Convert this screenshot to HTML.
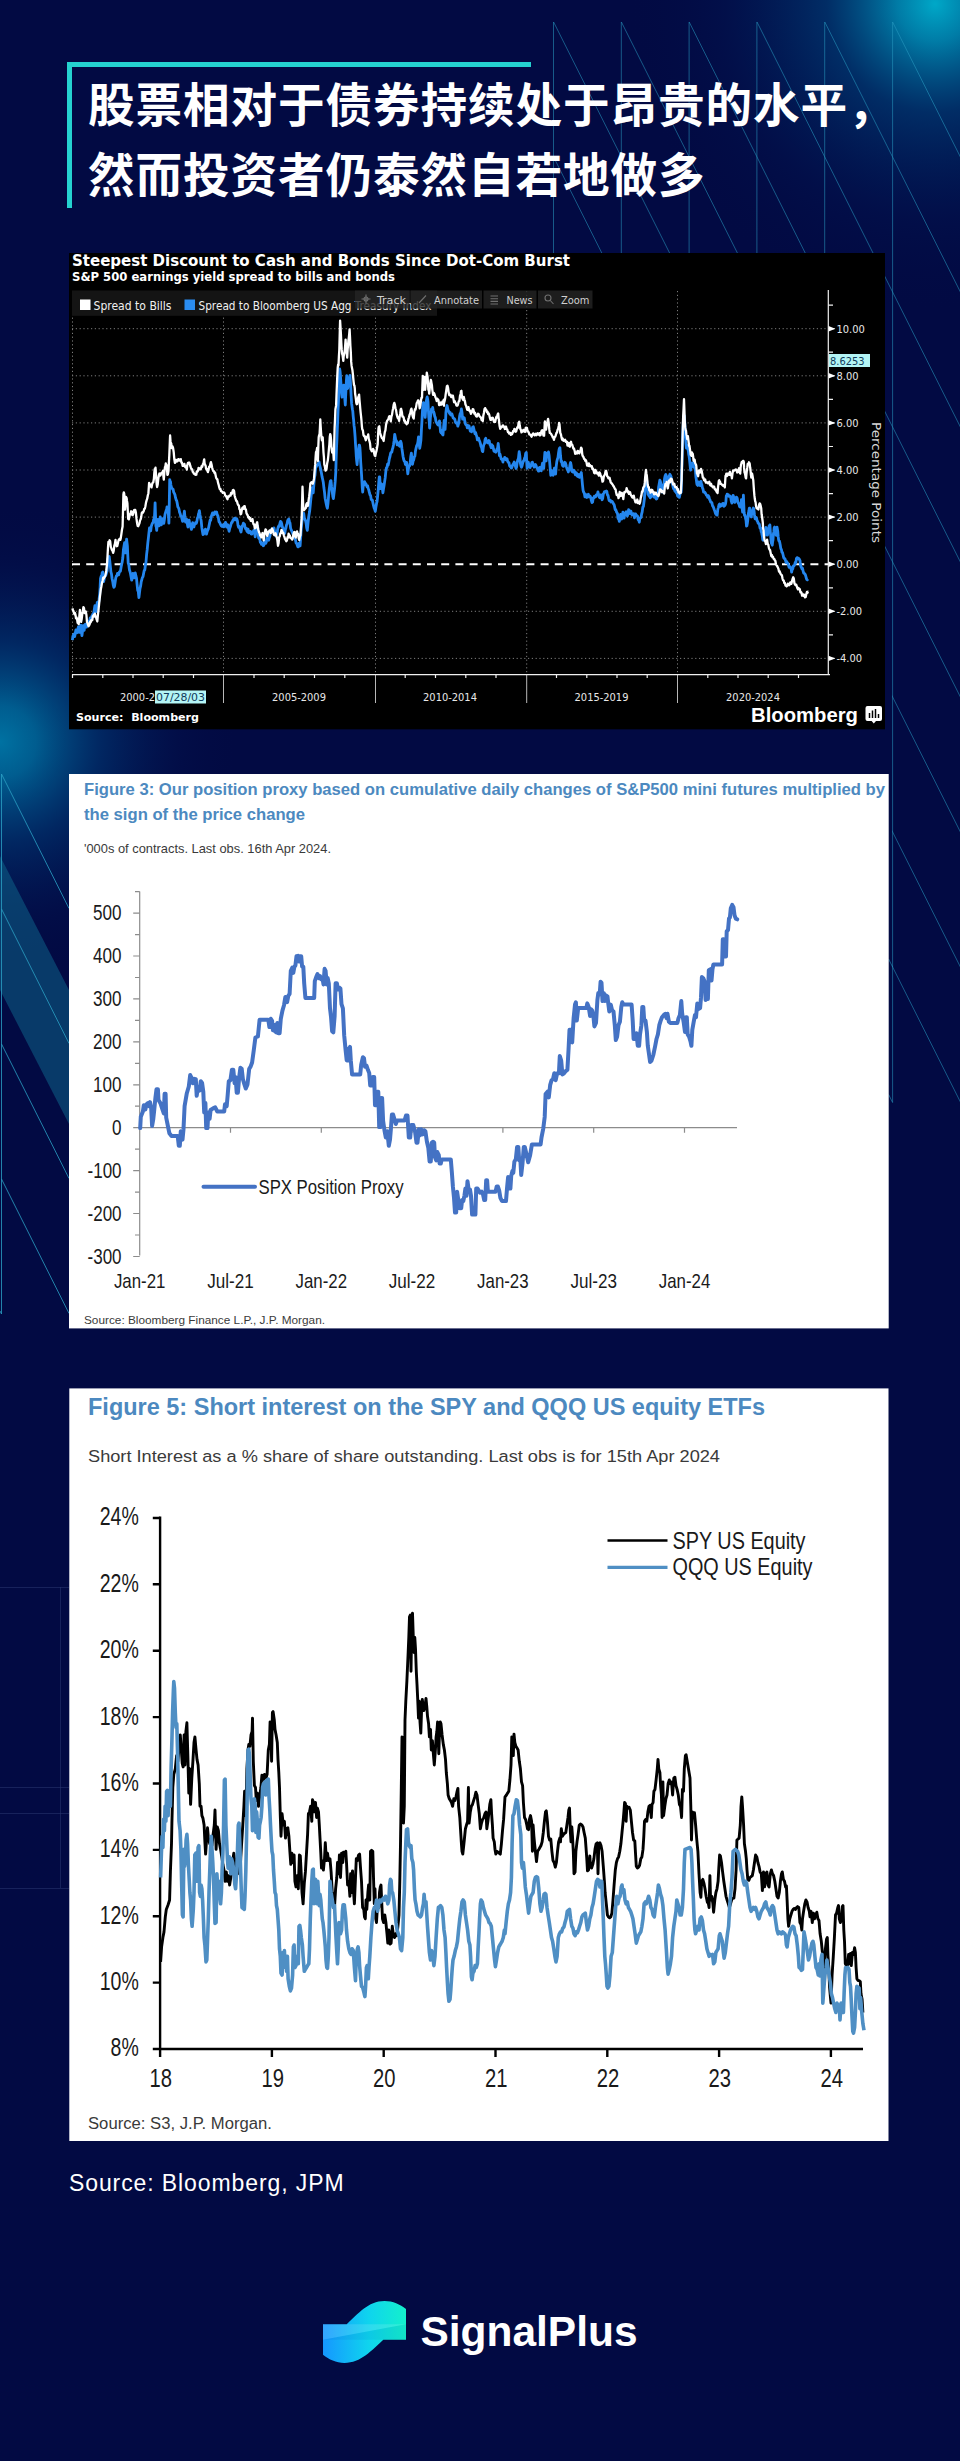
<!DOCTYPE html><html lang="zh"><head><meta charset="utf-8"><title>SignalPlus</title>
<style>
html,body{margin:0;padding:0;background:#020a43;}
body{width:960px;height:2461px;position:relative;overflow:hidden;font-family:"Liberation Sans","Noto Sans CJK SC",sans-serif;}
#bg{position:absolute;left:0;top:0;width:960px;height:2461px;}
.abs{position:absolute;}
h1{position:absolute;left:67px;top:62px;margin:0;width:464px;height:146px;box-sizing:border-box;border-left:5px solid #25d2d0;border-top:5px solid #25d2d0;}
h1 span{position:absolute;left:16px;white-space:nowrap;color:#fff;font-family:"Liberation Sans","Noto Sans CJK SC",sans-serif;font-weight:700;font-size:46.6px;line-height:70px;letter-spacing:0.9px;}
.src{position:absolute;left:69px;top:2167px;color:#fff;font-size:23px;line-height:32px;letter-spacing:0.9px;font-family:"Liberation Sans",sans-serif;white-space:nowrap;}
svg text{white-space:pre;}

</style></head><body>
<svg id="bg" width="960" height="2461" viewBox="0 0 960 2461">
<defs>
<radialGradient id="g1" cx="935" cy="4" r="310" gradientUnits="userSpaceOnUse"><stop offset="0" stop-color="#00a8c8" stop-opacity="1"/><stop offset="0.12" stop-color="#0090b8" stop-opacity="0.85"/><stop offset="0.35" stop-color="#005088" stop-opacity="0.5"/><stop offset="0.7" stop-color="#002060" stop-opacity="0.2"/><stop offset="1" stop-color="#020a43" stop-opacity="0"/></radialGradient>
<radialGradient id="g2" cx="0" cy="742" r="240" gradientUnits="userSpaceOnUse"><stop offset="0" stop-color="#0072a2" stop-opacity="1"/><stop offset="0.15" stop-color="#006698" stop-opacity="0.9"/><stop offset="0.42" stop-color="#003c78" stop-opacity="0.58"/><stop offset="0.75" stop-color="#021a58" stop-opacity="0.22"/><stop offset="1" stop-color="#020a43" stop-opacity="0"/></radialGradient>
<linearGradient id="lg" x1="0" y1="0" x2="1" y2="0"><stop offset="0" stop-color="#1597ff"/><stop offset="0.55" stop-color="#0fd4ee"/><stop offset="1" stop-color="#14f0cc"/></linearGradient>
</defs>
<rect width="960" height="2461" fill="#020a43"/>
<rect width="960" height="700" fill="url(#g1)"/>
<rect y="400" width="400" height="700" fill="url(#g2)"/>
<polygon points="0,856 69,990 69,1124 0,990" fill="#0e6288" fill-opacity="0.55"/>
<g stroke="#2a3670" stroke-opacity="0.55" stroke-width="1" fill="none">
<path d="M0,1587.5 H69"/>
<path d="M0,1787.5 H69"/>
<path d="M0,1813.5 H69"/>
<path d="M0,1888.5 H69"/>
<path d="M60.5,1587 V1888"/>
</g>
<clipPath id="cp"><path d="M553,21 H960 V1240 H892 V600 H884 V260 H553 Z"/></clipPath>
<g stroke="#2a9cc2" stroke-opacity="0.55" stroke-width="1" fill="none" clip-path="url(#cp)">
<path d="M553.5,22 V427.0"/>
<path d="M621.3,22 V562.0"/>
<path d="M689.1,22 V697.0"/>
<path d="M756.9,22 V720.0"/>
<path d="M824.7,22 V720.0"/>
<path d="M892.6,22 V1102.5"/>
<path d="M1231.6,22.0 L961.0,-516.8"/>
<path d="M1163.8,22.0 L961.0,-381.8"/>
<path d="M1096.0,22.0 L961.0,-246.8"/>
<path d="M1028.2,22.0 L961.0,-111.8"/>
<path d="M960.4,22.0 L961.0,23.2"/>
<path d="M892.6,22.0 L961.0,158.2"/>
<path d="M824.8,22.0 L961.0,293.2"/>
<path d="M757.0,22.0 L961.0,428.2"/>
<path d="M689.2,22.0 L961.0,563.2"/>
<path d="M621.4,22.0 L961.0,698.2"/>
<path d="M553.6,22.0 L961.0,833.2"/>
<path d="M553.5,156.8 L961.0,968.2"/>
<path d="M553.5,291.8 L961.0,1103.2"/>
</g>
<g stroke="#2a9cc2" stroke-opacity="0.55" stroke-width="1" fill="none">
<path d="M888.6,959 L892.6,967 M888.6,1094.5 L892.6,1102.5"/>
</g>
<g stroke="#2aa0c4" stroke-opacity="0.8" stroke-width="1" fill="none">
<path d="M1.5,774 V1314"/>
<path d="M1.5,774.0 L69,908.4"/>
<path d="M1.5,909.0 L69,1043.4"/>
<path d="M1.5,1044.0 L69,1178.4"/>
<path d="M1.5,1179.0 L69,1313.4"/>
<path d="M0,1311.0 L1.5,1314.0"/>
</g>
</svg>
<h1><span style="top:3.8px">股票相对于债券持续处于昂贵的水平，</span><span style="top:73.6px">然而投资者仍泰然自若地做多</span></h1>
<svg class="abs" style="left:0;top:0" width="960" height="2461" viewBox="0 0 960 2461">
<g id="chart1">
<rect x="69" y="253" width="816" height="476.3" fill="#000"/>
<text x="72" y="266.4" font-family='"DejaVu Sans", "Liberation Sans", sans-serif' font-weight="700" font-size="15.5" fill="#fff" textLength="498" lengthAdjust="spacingAndGlyphs">Steepest Discount to Cash and Bonds Since Dot-Com Burst</text>
<text x="72" y="281.1" font-family='"DejaVu Sans", "Liberation Sans", sans-serif' font-weight="700" font-size="11.4" fill="#fff" textLength="323" lengthAdjust="spacingAndGlyphs">S&amp;P 500 earnings yield spread to bills and bonds</text>
<g stroke="#7c7c7c" stroke-width="1" stroke-dasharray="1.2,2.6" fill="none">
<path d="M72,328.7 H828"/>
<path d="M72,375.8 H828"/>
<path d="M72,422.9 H828"/>
<path d="M72,470.0 H828"/>
<path d="M72,517.1 H828"/>
<path d="M72,611.3 H828"/>
<path d="M72,658.4 H828"/>
<path d="M72.5,291 V674"/>
<path d="M223.5,291 V674"/>
<path d="M375.5,291 V674"/>
<path d="M526.7,291 V674"/>
<path d="M677.5,291 V674"/>
</g>
<rect x="72" y="290.5" width="365" height="25.3" fill="#141414"/>
<rect x="80" y="299.5" width="10.5" height="10.5" fill="#fff"/>
<text x="93.5" y="309.5" font-family='"DejaVu Sans Condensed", "DejaVu Sans", "Liberation Sans", sans-serif' font-size="11.6" fill="#f0f0f0" textLength="78" lengthAdjust="spacingAndGlyphs">Spread to Bills</text>
<rect x="184.5" y="299.5" width="10.5" height="10.5" fill="#2a8cf0"/>
<text x="198.5" y="309.5" font-family='"DejaVu Sans Condensed", "DejaVu Sans", "Liberation Sans", sans-serif' font-size="11.6" fill="#f0f0f0" textLength="233" lengthAdjust="spacingAndGlyphs">Spread to Bloomberg US Agg Treasury Index</text>
<rect x="355" y="290.5" width="54.5" height="18" fill="#242424" fill-opacity="0.8"/>
<text x="377" y="303.5" font-family='"DejaVu Sans Condensed", "DejaVu Sans", "Liberation Sans", sans-serif' font-size="11" fill="#d0d0d0" textLength="29" lengthAdjust="spacingAndGlyphs">Track</text>
<rect x="411" y="290.5" width="71" height="18" fill="#242424" fill-opacity="0.8"/>
<text x="434" y="303.5" font-family='"DejaVu Sans Condensed", "DejaVu Sans", "Liberation Sans", sans-serif' font-size="11" fill="#d0d0d0" textLength="45" lengthAdjust="spacingAndGlyphs">Annotate</text>
<rect x="483.5" y="290.5" width="53" height="18" fill="#242424" fill-opacity="0.8"/>
<text x="506.5" y="303.5" font-family='"DejaVu Sans Condensed", "DejaVu Sans", "Liberation Sans", sans-serif' font-size="11" fill="#d0d0d0" textLength="26" lengthAdjust="spacingAndGlyphs">News</text>
<rect x="538" y="290.5" width="54.5" height="18" fill="#242424" fill-opacity="0.8"/>
<text x="561" y="303.5" font-family='"DejaVu Sans Condensed", "DejaVu Sans", "Liberation Sans", sans-serif' font-size="11" fill="#d0d0d0" textLength="28.5" lengthAdjust="spacingAndGlyphs">Zoom</text>
<g stroke="#707070" stroke-width="1.1" fill="none">
<path d="M366,294.5 V303.5 M361.5,299 H370.5"/><circle cx="366" cy="299" r="2"/>
<path d="M419,303 L426,295.5"/>
<path d="M490.5,296 H498 M490.5,298.7 H498 M490.5,301.4 H498 M490.5,304 H498"/>
<circle cx="548" cy="298" r="3"/><path d="M550.3,300.5 L553.5,304"/>
</g>
<path d="M72,564.2 H828" stroke="#fff" stroke-width="2" stroke-dasharray="8,6.2" fill="none"/>
<path d="M72.4,640.2L72.9,636.2L73.5,634.8L74.1,633.9L74.7,636.6L75.3,633.0L75.9,629.9L76.5,632.1L77.1,632.8L77.7,630.3L78.3,627.0L78.9,628.5L79.5,632.4L80.1,630.3L80.7,625.1L81.3,629.5L81.9,635.7L82.4,632.3L83.0,625.7L83.6,627.2L84.2,630.3L84.8,624.9L85.4,624.2L86.0,624.8L86.6,627.1L87.2,623.2L87.8,621.4L88.4,623.9L89.0,623.2L89.6,621.0L90.2,617.9L90.8,618.2L91.4,619.8L91.9,616.0L92.5,615.1L93.1,613.6L93.7,614.0L94.3,609.5L94.9,605.6L95.5,609.1L96.1,611.7L96.7,606.1L97.3,602.3L97.9,603.6L98.5,603.5L99.1,599.2L99.7,594.0L100.1,587.5L100.5,578.5L101.1,576.3L101.6,576.9L102.2,572.7L102.8,572.1L103.2,578.1L103.6,581.6L104.2,579.1L104.8,575.4L105.4,575.8L106.0,574.6L106.6,572.5L107.2,570.8L107.6,563.6L108.0,558.6L108.6,557.7L109.2,556.5L109.8,561.1L110.4,566.8L110.9,571.9L111.5,574.1L112.1,578.7L112.7,581.4L113.3,585.3L113.9,587.3L114.5,586.4L115.1,582.6L115.7,578.3L116.3,576.0L116.9,575.8L117.5,573.4L118.1,574.5L118.7,574.7L119.3,572.2L119.9,571.5L120.4,571.2L121.0,567.7L121.6,564.3L122.2,562.1L122.8,557.8L123.4,549.8L124.0,546.3L124.6,542.6L125.0,548.9L125.4,552.9L126.0,547.3L126.6,539.2L127.0,542.7L127.4,546.2L127.8,555.8L128.2,563.0L128.8,564.9L129.4,569.7L129.9,571.2L130.5,573.8L131.1,577.1L131.7,580.2L132.3,576.2L132.9,573.4L133.5,575.8L134.1,577.9L134.7,575.4L135.3,572.9L135.9,575.9L136.5,578.1L137.1,584.5L137.7,590.3L138.3,591.8L138.9,597.5L139.4,593.5L140.0,588.6L140.6,586.2L141.2,581.9L141.8,579.7L142.4,577.5L143.0,576.7L143.6,573.5L144.2,570.5L144.8,569.8L145.4,565.0L146.0,562.0L146.6,554.7L147.2,549.7L147.8,543.2L148.4,537.9L148.9,533.1L149.5,527.9L150.1,531.1L150.7,530.8L151.3,526.3L151.9,524.3L152.5,523.1L153.1,522.5L153.7,519.3L154.3,519.3L154.7,512.7L155.1,502.9L155.5,514.7L155.9,526.0L156.3,527.1L156.7,530.4L157.3,523.8L157.9,519.3L158.4,521.4L159.0,525.9L159.6,523.4L160.2,516.8L160.8,519.4L161.4,524.8L162.0,519.9L162.6,518.8L163.2,522.5L163.8,523.3L164.4,519.5L165.0,514.4L165.6,512.3L166.2,510.3L166.6,509.9L167.0,506.9L167.6,509.9L168.1,510.6L168.5,515.7L168.9,523.2L169.3,502.8L169.7,479.7L170.1,481.3L170.5,481.6L170.9,485.0L171.3,486.7L171.9,488.1L172.5,488.8L173.1,489.3L173.7,492.3L174.3,493.2L174.9,494.6L175.5,497.7L176.1,499.7L176.7,500.7L177.3,503.6L177.8,506.8L178.4,507.6L179.0,509.3L179.6,512.4L180.2,513.8L180.8,516.3L181.4,516.6L182.0,518.9L182.6,521.3L183.2,521.2L183.8,515.7L184.4,511.1L185.0,517.9L185.6,522.1L186.2,521.3L186.8,519.4L187.3,523.8L187.9,527.0L188.5,523.6L189.1,520.2L189.7,523.8L190.3,524.4L190.9,527.8L191.5,529.4L192.1,525.3L192.7,522.6L193.3,526.4L193.9,527.0L194.5,524.4L195.1,524.1L195.7,522.4L196.3,523.3L196.8,521.9L197.4,518.2L198.0,517.0L198.6,513.5L199.0,512.4L199.4,510.6L200.0,515.0L200.6,518.2L201.2,520.9L201.8,527.4L202.4,531.2L203.0,534.6L203.6,534.3L204.2,530.5L204.8,531.0L205.4,529.1L205.9,530.5L206.5,534.2L207.1,531.8L207.7,530.2L208.3,529.0L208.9,526.3L209.5,523.4L210.1,520.2L210.7,520.3L211.3,516.5L211.9,514.6L212.5,512.9L213.1,514.8L213.7,513.7L214.3,514.4L214.9,511.8L215.4,512.4L216.0,512.8L216.6,512.0L217.2,514.7L217.8,515.6L218.4,518.0L219.0,521.9L219.6,522.2L220.2,523.6L220.8,525.0L221.4,525.9L222.0,526.4L222.6,525.7L223.2,524.8L223.8,526.8L224.4,526.1L224.9,524.9L225.5,522.3L226.1,523.8L226.7,527.1L227.3,525.7L227.9,524.8L228.5,528.6L229.1,531.3L229.7,528.4L230.3,526.8L230.9,524.7L231.5,522.7L232.1,522.5L232.7,520.7L233.3,519.9L233.9,518.7L234.4,519.9L235.0,518.1L235.6,519.7L236.2,519.4L236.8,518.8L237.4,520.8L238.0,525.4L238.6,527.2L239.2,526.3L239.8,528.1L240.4,530.4L241.0,532.0L241.6,528.7L242.2,526.0L242.8,525.3L243.4,523.1L243.9,525.2L244.5,524.2L245.1,527.5L245.7,528.9L246.3,528.3L246.9,531.2L247.5,531.9L248.1,529.2L248.7,532.8L249.3,532.5L249.9,531.6L250.5,531.4L251.1,533.9L251.7,534.1L252.3,533.3L252.9,532.6L253.4,531.0L254.0,530.2L254.6,532.9L255.2,536.9L255.8,531.8L256.4,530.7L257.0,528.4L257.6,525.9L258.1,531.5L258.6,537.8L259.2,538.6L259.8,538.9L260.3,542.4L260.9,542.0L261.5,544.3L262.1,542.9L262.7,544.1L263.3,545.8L263.9,545.1L264.5,541.2L265.1,541.1L265.7,543.4L266.3,542.1L266.9,538.1L267.5,537.7L268.1,539.1L268.7,540.2L269.3,537.7L269.8,536.4L270.4,533.0L271.0,530.0L271.6,530.0L272.2,530.4L272.8,531.0L273.4,531.4L274.0,527.9L274.6,531.8L275.2,533.0L275.8,536.0L276.4,535.0L277.0,534.0L277.6,529.6L278.2,527.1L278.8,525.8L279.3,526.4L279.9,523.4L280.5,521.4L281.1,521.8L281.7,523.7L282.3,527.1L282.9,527.4L283.5,529.0L284.1,530.5L284.7,533.4L285.3,529.9L285.9,528.1L286.5,524.9L287.1,523.8L287.7,520.5L288.3,519.6L288.8,519.0L289.4,521.4L290.0,522.9L290.6,528.1L291.2,529.9L291.8,531.2L292.4,532.6L293.0,534.3L293.6,534.1L294.2,538.1L294.8,538.3L295.4,539.6L296.0,542.8L296.6,543.4L297.2,545.1L297.8,546.8L298.3,546.9L298.9,543.3L299.5,545.8L300.1,545.8L300.7,537.1L301.3,527.6L301.9,522.2L302.5,517.1L303.1,514.4L303.7,513.2L304.3,517.7L304.9,519.4L305.5,520.5L306.1,523.1L306.7,528.0L307.3,530.3L307.8,525.4L308.4,519.5L309.0,514.9L309.6,511.6L310.2,505.8L310.8,499.5L311.4,493.9L312.0,487.8L312.6,491.9L313.2,492.8L313.8,485.3L314.4,477.8L315.0,475.1L315.6,468.0L316.2,466.8L316.8,465.6L317.3,464.9L317.9,464.3L318.5,463.4L319.1,461.9L319.7,465.4L320.3,467.6L320.9,470.4L321.5,473.6L322.1,476.9L322.7,479.5L323.3,482.4L323.9,487.8L324.5,492.1L325.1,498.2L325.7,501.1L326.3,504.3L326.8,506.5L327.4,508.2L328.0,503.4L328.6,495.9L329.2,489.4L329.8,484.9L330.4,480.9L331.0,480.6L331.6,486.7L332.2,491.4L332.8,496.3L333.4,498.6L334.0,493.6L334.6,488.5L335.2,481.4L335.8,471.7L336.1,460.5L336.5,448.5L336.9,439.9L337.3,429.2L337.7,420.1L338.1,409.1L338.5,400.6L338.9,389.4L339.3,380.0L339.7,369.0L340.1,371.6L340.5,376.7L340.9,382.7L341.3,388.6L341.7,394.4L342.1,397.2L342.5,393.6L342.9,389.4L343.3,387.9L343.7,385.2L344.1,387.3L344.5,393.6L344.9,400.0L345.3,405.0L345.6,397.2L346.0,389.4L346.4,380.6L346.8,375.7L347.2,381.3L347.6,388.5L348.0,386.3L348.4,385.6L348.8,380.1L349.2,377.7L349.6,378.1L350.0,375.3L350.4,381.8L350.8,389.1L351.2,396.8L351.6,403.4L352.0,406.4L352.4,409.2L352.8,411.3L353.2,416.3L353.6,419.9L354.0,425.2L354.4,428.0L354.8,432.8L355.1,436.8L355.5,443.9L355.9,449.6L356.3,456.7L356.7,461.1L357.1,464.6L357.5,459.6L357.9,456.5L358.3,452.4L358.7,448.5L359.1,445.1L359.5,445.2L359.9,447.4L360.3,453.2L360.7,462.1L361.1,467.6L361.5,474.1L361.9,480.7L362.3,487.9L362.7,492.0L363.1,487.2L363.5,483.7L364.1,484.9L364.6,481.7L365.2,483.5L365.8,483.6L366.4,485.2L367.0,486.8L367.6,485.7L368.2,488.6L368.8,490.1L369.4,492.7L370.0,494.8L370.6,495.6L371.2,499.5L371.8,500.0L372.4,500.2L373.0,503.2L373.6,505.9L374.1,507.8L374.7,509.1L375.3,511.3L375.9,507.3L376.5,503.7L377.1,501.3L377.7,495.3L378.3,489.1L378.9,480.7L379.3,476.8L379.7,476.9L380.1,483.0L380.5,488.7L381.1,485.3L381.7,484.0L382.3,487.7L382.9,492.8L383.4,489.5L384.0,485.9L384.6,481.9L385.2,477.9L385.8,471.6L386.4,467.7L387.0,467.6L387.6,464.1L388.2,465.0L388.8,462.0L389.4,458.5L390.0,456.5L390.6,453.3L391.2,452.3L391.8,452.3L392.4,449.1L392.9,447.7L393.5,444.8L394.1,440.7L394.7,434.4L395.3,437.3L395.9,441.0L396.5,440.9L397.1,444.9L397.7,443.4L398.3,443.0L398.9,445.1L399.5,446.2L400.1,441.9L400.7,441.3L401.3,443.2L401.9,448.5L402.4,451.9L403.0,456.2L403.6,459.3L404.2,461.1L404.8,461.5L405.4,464.6L406.0,462.6L406.6,462.5L407.2,467.9L407.8,473.8L408.4,469.0L409.0,465.9L409.6,465.9L410.2,462.4L410.8,456.4L411.4,453.1L411.9,460.3L412.5,464.3L413.1,461.0L413.7,460.0L414.3,456.9L414.9,456.2L415.5,450.9L416.1,448.1L416.7,445.6L417.3,444.7L417.9,442.1L418.5,437.0L419.1,442.3L419.7,448.4L420.3,444.7L420.9,440.4L421.4,430.1L422.0,420.2L422.4,412.1L422.8,405.7L423.4,402.6L424.0,403.0L424.6,410.4L425.2,417.4L425.8,407.9L426.4,400.7L426.8,398.1L427.2,396.9L427.6,398.9L428.0,401.7L428.4,410.3L428.8,417.4L429.2,421.0L429.6,428.0L430.0,423.6L430.4,417.5L430.8,414.8L431.1,413.0L431.5,409.0L431.9,408.8L432.3,409.6L432.7,407.5L433.1,410.3L433.5,411.7L434.1,413.0L434.7,416.3L435.3,417.5L435.9,420.9L436.5,422.5L437.1,423.5L437.7,424.6L438.3,425.0L438.9,423.8L439.5,420.8L440.1,427.0L440.6,432.0L441.2,432.8L441.8,430.3L442.4,434.3L443.0,434.9L443.6,427.0L444.2,420.3L444.7,424.1L445.1,429.4L445.5,422.0L445.9,412.7L446.5,407.7L447.1,405.5L447.7,408.7L448.3,411.2L448.9,411.3L449.5,413.5L450.1,412.5L450.7,415.0L451.3,414.2L451.9,414.0L452.5,415.9L453.1,417.9L453.7,418.2L454.3,418.9L454.8,419.3L455.4,422.0L456.0,423.0L456.6,422.9L457.2,422.9L457.8,426.2L458.4,424.4L459.0,421.1L459.6,416.4L460.2,413.6L460.8,413.0L461.4,409.0L462.0,412.6L462.6,419.0L463.2,418.0L463.8,417.6L464.3,418.1L464.9,421.7L465.5,424.1L466.1,425.2L466.7,425.1L467.3,427.9L467.9,425.5L468.5,425.7L469.1,426.2L469.7,428.7L470.3,431.1L470.9,430.8L471.5,431.9L472.1,429.2L472.7,427.0L473.3,426.8L473.8,428.9L474.4,431.4L475.0,433.8L475.6,432.6L476.2,434.7L476.8,436.6L477.4,439.9L478.0,438.5L478.6,438.3L479.2,440.4L479.8,441.6L480.4,443.6L481.0,446.5L481.6,447.3L482.2,450.8L482.8,451.6L483.3,447.3L483.9,444.5L484.5,443.7L485.1,439.4L485.7,438.3L486.3,441.3L486.9,441.6L487.5,442.8L488.1,441.4L488.7,440.5L489.3,441.1L489.9,444.7L490.5,445.4L491.1,447.7L491.7,444.6L492.3,445.7L492.8,445.9L493.4,448.7L494.0,451.2L494.6,451.4L495.2,451.7L495.8,452.2L496.4,450.8L497.0,448.8L497.6,448.1L498.2,443.5L498.8,448.9L499.4,455.5L500.0,454.1L500.6,456.7L501.2,459.1L501.8,459.3L502.3,459.1L502.9,462.1L503.5,459.2L504.1,459.5L504.7,457.4L505.3,458.2L505.9,459.9L506.5,458.6L507.1,459.0L507.7,461.5L508.3,462.3L508.9,462.5L509.5,465.6L510.1,466.5L510.7,466.9L511.3,468.0L511.8,467.7L512.4,465.4L513.0,464.3L513.6,463.5L514.2,462.0L514.8,464.4L515.4,466.2L516.0,468.5L516.6,467.0L517.2,462.6L517.8,459.9L518.4,458.7L518.8,454.9L519.2,451.6L519.8,455.7L520.4,463.3L520.9,465.7L521.5,467.3L522.1,465.8L522.7,463.0L523.3,461.2L523.9,460.6L524.5,458.3L525.1,457.3L525.7,453.3L526.3,452.5L526.7,461.8L527.1,468.4L527.7,464.1L528.3,462.1L528.9,465.0L529.5,466.5L530.1,467.6L530.6,465.4L531.2,465.7L531.8,462.5L532.4,462.2L533.0,464.2L533.6,465.8L534.2,467.1L534.8,465.6L535.4,464.4L536.0,465.5L536.6,467.0L537.2,468.4L537.8,469.1L538.4,471.1L539.0,471.0L539.6,467.3L540.1,467.3L540.7,468.0L541.3,470.8L541.9,466.3L542.5,463.2L543.1,464.6L543.7,468.4L544.3,459.9L544.9,452.4L545.5,458.3L546.1,461.0L546.7,456.2L547.3,452.8L547.9,454.3L548.5,451.9L549.1,455.4L549.6,461.3L550.2,468.3L550.8,475.4L551.4,471.2L552.0,470.7L552.6,473.9L553.2,475.2L553.8,473.3L554.4,468.1L555.0,470.9L555.6,474.1L556.2,466.6L556.8,461.6L557.4,459.2L558.0,457.5L558.6,452.4L559.1,449.5L559.5,448.3L559.9,447.6L560.5,455.5L561.1,461.5L561.7,461.3L562.3,464.9L562.9,466.2L563.5,466.3L564.1,464.3L564.7,462.3L565.3,462.7L565.9,464.4L566.5,467.1L567.1,469.0L567.7,469.6L568.3,472.0L568.8,470.1L569.4,469.0L570.0,464.6L570.6,462.5L571.2,465.6L571.8,471.2L572.4,471.9L573.0,472.0L573.6,470.2L574.2,470.6L574.8,472.9L575.4,474.9L576.0,472.6L576.6,473.2L577.2,475.9L577.8,476.5L578.3,474.9L578.9,474.4L579.5,477.4L580.1,476.4L580.7,474.9L581.3,472.5L581.9,478.3L582.5,485.1L583.1,490.4L583.7,492.3L584.3,493.3L584.9,496.8L585.5,494.8L586.1,494.7L586.7,497.5L587.3,496.3L587.8,496.7L588.4,494.3L589.0,496.9L589.6,496.4L590.2,496.2L590.8,497.7L591.4,500.6L592.0,502.6L592.6,502.0L593.2,497.8L593.8,497.9L594.4,496.3L595.0,497.0L595.6,496.9L596.2,495.1L596.8,494.5L597.3,495.1L597.9,491.9L598.5,494.4L599.1,496.9L599.7,497.7L600.3,495.0L600.9,495.0L601.5,498.1L602.1,499.8L602.7,498.4L603.3,493.8L603.9,493.1L604.5,491.6L605.1,492.1L605.7,491.5L606.3,491.0L606.8,491.2L607.4,494.9L608.0,495.4L608.6,498.3L609.2,500.7L609.8,500.9L610.4,500.2L611.0,502.0L611.6,501.5L612.2,501.4L612.8,502.4L613.4,503.8L614.0,504.4L614.6,506.7L615.2,509.8L615.8,509.6L616.3,511.5L616.9,512.7L617.5,513.5L618.1,518.7L618.7,518.3L619.3,521.4L619.9,517.9L620.5,514.5L621.1,516.0L621.7,519.1L622.3,516.1L622.9,512.2L623.5,515.9L624.1,518.1L624.5,515.7L625.0,512.9L625.6,513.1L626.2,511.7L626.8,512.6L627.4,516.0L628.0,513.7L628.6,509.6L629.2,510.4L629.8,513.6L630.3,511.2L630.9,511.1L631.5,513.4L632.1,515.0L632.7,514.4L633.3,513.7L633.9,513.9L634.5,517.8L635.1,514.0L635.7,514.0L636.3,515.7L636.9,515.6L637.5,515.9L638.1,519.6L638.7,520.1L639.3,522.2L639.8,518.2L640.4,518.1L641.0,517.5L641.6,514.0L642.2,511.9L642.8,507.2L643.4,506.6L644.0,501.8L644.4,498.6L644.8,492.5L645.2,484.7L645.6,480.4L646.0,480.6L646.4,477.4L646.8,481.4L647.2,486.3L647.6,488.6L648.0,494.5L648.6,494.0L649.1,496.3L649.7,495.5L650.3,497.8L650.9,496.9L651.5,492.4L652.1,493.4L652.7,495.8L653.3,496.1L653.9,497.1L654.5,494.6L655.1,493.3L655.7,498.0L656.3,499.1L656.9,498.8L657.5,495.3L658.1,493.0L658.6,487.3L659.2,484.1L659.8,480.2L660.4,481.4L661.0,484.5L661.6,488.1L662.2,492.0L662.8,490.4L663.4,485.3L664.0,483.9L664.6,478.2L665.2,475.6L665.8,474.5L666.4,476.1L667.0,480.7L667.6,482.3L668.1,483.7L668.7,481.0L669.3,476.0L669.9,474.3L670.5,475.4L671.1,476.8L671.7,482.5L672.3,483.0L672.9,486.1L673.5,488.8L674.1,488.0L674.7,490.5L675.3,491.6L675.9,491.0L676.5,493.1L677.1,493.5L677.6,496.0L678.2,496.1L678.8,496.8L679.4,497.3L680.0,494.3L680.6,492.3L681.2,492.1L681.6,476.2L682.0,463.4L682.4,448.8L682.8,433.9L683.2,425.0L683.6,416.2L684.0,416.5L684.4,415.8L684.8,423.0L685.2,432.7L685.6,438.3L686.0,443.8L686.4,448.0L686.8,447.9L687.1,446.0L687.5,445.7L687.9,448.9L688.3,450.9L688.7,454.4L689.1,456.1L689.5,459.3L689.9,463.4L690.3,467.7L690.7,470.2L691.1,466.6L691.5,464.4L691.9,463.0L692.3,462.9L692.7,465.1L693.1,465.8L693.5,466.7L693.9,463.5L694.3,466.3L694.7,468.0L695.1,469.1L695.5,471.4L695.9,477.1L696.3,479.3L696.6,482.2L697.0,484.6L697.4,483.6L697.8,485.5L698.2,484.4L698.6,482.0L699.0,483.5L699.4,484.4L699.8,483.7L700.2,485.6L700.6,483.2L701.0,481.3L701.4,484.4L701.8,484.4L702.4,487.7L703.0,489.1L703.6,492.2L704.2,492.2L704.8,492.2L705.4,493.2L705.9,494.2L706.5,495.4L707.1,495.3L707.7,497.4L708.3,495.6L708.9,496.6L709.5,499.3L710.1,500.1L710.7,502.1L711.3,502.1L711.9,502.9L712.5,505.8L713.1,506.5L713.7,508.1L714.3,509.8L714.9,511.3L715.4,513.2L716.0,514.4L716.6,513.1L717.2,515.2L717.8,509.3L718.4,507.3L719.0,504.7L719.6,504.1L720.2,506.4L720.8,506.1L721.4,504.6L722.0,505.3L722.6,503.6L723.2,503.4L723.8,506.3L724.4,505.9L724.9,505.5L725.5,504.0L725.9,501.6L726.3,495.8L726.7,496.1L727.1,494.2L727.7,495.7L728.3,494.7L728.9,496.2L729.5,495.9L730.1,496.1L730.7,497.4L731.3,501.2L731.9,503.1L732.5,501.4L733.1,495.3L733.7,497.0L734.3,501.2L734.8,502.4L735.4,499.6L736.0,497.4L736.6,497.1L737.2,498.1L737.8,502.1L738.4,503.3L739.0,504.1L739.6,506.6L740.2,507.0L740.8,504.1L741.4,499.6L742.0,506.9L742.6,512.2L743.0,505.2L743.4,495.2L743.8,505.1L744.1,512.3L744.5,515.3L744.9,515.0L745.3,516.5L745.7,519.0L746.1,520.8L746.5,526.1L746.9,525.7L747.3,523.7L747.7,520.8L748.1,515.8L748.5,512.8L748.9,511.1L749.3,508.2L749.7,508.1L750.1,510.5L750.5,515.4L750.9,516.3L751.3,516.9L751.7,513.7L752.1,511.3L752.5,511.5L752.9,509.5L753.3,508.0L753.6,508.4L754.0,510.7L754.4,514.2L754.8,517.1L755.2,518.9L755.8,518.3L756.4,517.5L757.0,520.6L757.6,521.3L758.2,523.3L758.8,523.6L759.4,524.4L760.0,528.1L760.6,527.9L761.2,531.9L761.6,532.2L762.0,534.7L762.4,536.3L762.8,539.8L763.1,540.2L763.5,536.6L763.9,536.4L764.3,535.4L764.7,534.6L765.1,531.0L765.5,529.5L765.9,527.3L766.3,530.7L766.7,531.1L767.1,535.1L767.5,535.1L767.9,531.4L768.3,529.8L768.7,528.0L769.1,525.9L769.5,526.5L769.9,524.9L770.3,531.6L770.7,535.7L771.1,540.5L771.5,543.5L771.9,543.8L772.3,545.2L772.6,541.9L773.0,540.0L773.4,533.8L773.8,532.0L774.2,527.7L774.6,527.1L775.0,529.6L775.4,534.0L775.8,534.4L776.2,535.2L776.6,532.9L777.0,527.1L777.4,529.3L777.8,531.5L778.2,536.4L778.6,539.8L779.0,540.9L779.4,541.1L779.8,542.7L780.2,544.8L780.8,548.6L781.4,549.5L781.9,552.2L782.5,552.7L783.1,555.0L783.7,557.6L784.3,558.5L784.9,558.6L785.5,560.5L786.1,562.7L786.7,561.6L787.3,562.7L787.9,563.4L788.5,565.4L789.1,567.4L789.7,566.6L790.3,566.8L790.9,568.7L791.3,569.9L791.6,572.1L792.2,569.3L792.8,568.8L793.4,565.9L794.0,565.8L794.6,565.0L795.2,562.5L795.8,562.9L796.4,558.6L797.0,557.7L797.6,557.9L798.2,558.8L798.8,558.5L799.4,559.4L800.0,560.7L800.4,564.6L800.8,566.5L801.3,567.0L801.9,568.9L802.5,568.3L803.1,570.9L803.7,573.1L804.3,573.3L804.9,574.0L805.5,575.2L806.1,577.3L806.7,579.4L807.3,579.8L807.9,579.0" stroke="#2486ee" stroke-width="2.8" fill="none" stroke-linejoin="round"/>
<path d="M72.4,608.4L72.9,610.3L73.4,610.9L73.9,612.9L74.5,614.2L75.0,613.1L75.5,615.0L76.0,618.3L76.6,617.5L77.1,619.3L77.6,622.9L78.2,622.2L78.7,624.2L79.3,616.6L79.9,610.0L80.5,614.4L81.1,621.9L81.7,619.1L82.3,613.8L82.8,611.2L83.4,607.1L84.0,608.1L84.6,613.2L85.2,612.6L85.8,611.5L86.4,614.9L87.0,622.2L87.5,622.9L88.1,625.1L88.6,626.2L89.1,625.1L89.6,624.6L90.2,621.5L90.7,622.2L91.2,620.1L91.8,620.4L92.3,620.1L92.8,616.2L93.3,616.2L93.9,614.7L94.4,616.5L94.9,613.7L95.5,616.2L96.1,617.4L96.7,619.7L97.3,621.5L97.9,615.2L98.5,609.9L99.1,604.2L99.7,598.5L100.3,593.7L100.9,588.7L101.4,586.4L102.0,582.8L102.6,580.8L103.2,577.6L103.8,578.5L104.4,576.9L105.0,576.7L105.6,574.3L106.2,571.0L106.8,565.8L107.2,561.6L107.6,554.5L108.0,547.6L108.4,541.8L109.0,542.4L109.6,540.3L110.2,541.4L110.8,546.9L111.3,548.1L111.9,549.9L112.5,550.6L113.1,552.8L113.7,550.8L114.3,545.8L114.9,543.9L115.5,539.8L116.1,544.3L116.7,546.2L117.3,545.9L117.9,543.2L118.5,540.5L119.1,539.3L119.7,538.8L120.3,539.9L120.8,537.9L121.4,533.9L122.0,529.5L122.6,526.5L123.0,511.3L123.4,494.5L123.8,492.3L124.2,493.6L124.6,500.2L125.0,509.6L125.4,504.4L125.8,496.8L126.2,497.3L126.6,498.0L127.0,501.0L127.4,503.1L127.8,511.1L128.2,518.9L128.8,519.4L129.4,516.8L129.9,514.5L130.5,513.1L131.1,511.3L131.7,511.5L132.3,515.1L132.9,514.8L133.5,513.0L134.1,510.1L134.7,510.0L135.3,510.0L135.9,512.5L136.5,518.9L137.1,523.2L137.7,526.0L138.3,526.2L138.9,524.6L139.4,523.4L140.0,520.5L140.6,519.5L141.2,517.1L141.8,513.0L142.4,512.1L143.0,512.5L143.6,511.5L144.2,508.9L144.8,508.8L145.4,506.2L146.0,502.6L146.6,500.4L147.2,498.7L147.8,495.5L148.4,493.2L148.8,487.3L149.1,482.9L149.7,485.1L150.3,484.4L150.9,486.4L151.5,487.4L152.1,484.4L152.7,482.7L153.3,482.3L153.9,478.8L154.3,473.0L154.7,469.2L155.1,469.5L155.5,467.7L155.9,473.0L156.3,478.9L156.7,484.4L157.1,487.0L157.7,484.5L158.3,478.7L158.8,475.6L159.4,473.5L160.0,475.7L160.6,475.1L161.2,473.2L161.8,472.7L162.4,472.4L163.0,470.8L163.4,476.4L163.8,479.7L164.4,472.0L165.0,467.0L165.4,466.5L165.8,463.5L166.2,465.5L166.6,465.1L167.0,468.9L167.4,474.9L167.9,474.3L168.5,470.9L168.9,462.7L169.3,455.3L169.7,445.2L170.1,435.5L170.5,441.2L170.9,443.0L171.3,443.6L171.7,448.2L172.1,448.0L172.5,446.3L173.1,448.2L173.7,452.1L174.3,459.0L174.9,462.9L175.5,462.3L176.1,459.9L176.7,461.0L177.3,461.4L177.8,459.6L178.4,459.1L179.0,459.3L179.6,460.7L180.2,460.7L180.8,459.1L181.4,462.5L182.0,462.6L182.6,465.9L183.2,465.6L183.8,465.9L184.4,463.9L185.0,466.8L185.6,467.4L186.2,466.4L186.8,469.6L187.3,465.1L187.9,463.0L188.5,463.5L189.1,462.4L189.7,463.5L190.3,466.0L190.9,467.7L191.5,469.0L192.1,469.3L192.7,471.8L193.3,472.2L193.9,473.7L194.5,473.7L195.1,474.7L195.7,474.8L196.3,474.7L196.8,471.5L197.4,471.7L198.0,470.9L198.6,467.8L199.2,469.5L199.8,468.5L200.4,469.3L201.0,468.8L201.6,466.1L202.2,466.9L202.8,464.4L203.4,463.4L203.8,461.1L204.2,459.3L204.6,463.4L205.0,464.6L205.6,465.6L206.1,468.7L206.7,468.8L207.3,470.6L207.9,472.1L208.5,469.8L209.1,466.7L209.7,467.3L210.3,464.1L210.9,462.1L211.5,464.3L212.1,467.5L212.7,469.6L213.3,471.0L213.9,471.1L214.5,473.0L215.1,472.8L215.6,475.3L216.2,478.0L216.8,479.0L217.4,479.5L218.0,482.6L218.6,484.6L219.2,487.2L219.8,489.1L220.4,488.9L221.0,491.2L221.6,491.2L222.2,491.8L222.8,492.8L223.4,492.5L224.0,492.3L224.6,493.2L225.1,495.3L225.7,495.8L226.3,496.6L226.9,498.1L227.5,499.3L228.1,496.3L228.7,496.9L229.3,495.7L229.9,495.6L230.5,495.7L231.1,492.8L231.7,494.0L232.3,492.5L232.9,490.1L233.5,490.0L234.1,491.1L234.6,495.5L235.2,497.6L235.8,499.5L236.4,501.1L237.0,501.2L237.6,503.8L238.2,505.0L238.8,505.4L239.4,509.0L240.0,509.9L240.6,514.3L241.2,513.9L241.8,510.1L242.4,507.8L243.0,507.3L243.6,508.8L244.1,506.4L244.7,506.1L245.3,509.4L245.9,509.4L246.5,513.3L247.1,514.5L247.7,515.3L248.3,517.5L248.9,516.9L249.5,518.9L250.1,518.0L250.7,520.8L251.3,520.7L251.9,521.1L252.5,519.1L253.1,522.7L253.6,524.4L254.2,524.5L254.8,528.4L255.4,527.9L256.0,527.2L256.6,523.7L257.2,522.2L257.8,527.3L258.4,530.1L259.0,532.1L259.6,533.2L260.1,535.4L260.7,536.2L261.3,537.4L261.9,535.3L262.5,533.0L263.1,536.6L263.7,540.3L264.3,535.3L264.9,532.0L265.5,529.4L266.1,530.0L266.7,533.6L267.3,535.9L267.9,533.7L268.5,531.6L269.1,531.2L269.6,530.3L270.2,530.3L270.8,533.0L271.4,531.6L272.0,528.3L272.6,529.8L273.2,531.6L273.8,534.5L274.4,535.1L275.0,533.8L275.6,533.2L276.2,536.0L276.8,537.3L277.4,540.5L278.0,545.8L278.6,543.3L279.1,537.3L279.7,536.4L280.3,533.5L280.9,533.0L281.5,529.8L282.1,530.8L282.7,533.2L283.3,532.8L283.9,535.6L284.5,537.2L285.1,539.1L285.7,540.0L286.3,541.3L286.9,540.6L287.5,537.1L288.1,537.5L288.6,533.6L289.2,535.0L289.8,535.6L290.4,537.9L291.0,538.1L291.6,538.8L292.2,539.6L292.8,537.5L293.4,534.2L294.0,532.3L294.6,532.0L295.2,536.4L295.8,537.6L296.4,533.6L297.0,531.3L297.6,533.5L298.1,533.9L298.7,538.4L299.3,540.1L299.9,536.6L300.5,535.2L301.1,525.8L301.7,517.3L302.1,502.8L302.5,486.7L302.9,498.6L303.3,507.5L303.9,510.3L304.5,509.6L305.1,508.6L305.7,508.3L306.3,504.4L306.9,503.3L307.4,506.2L308.0,505.6L308.6,500.4L309.2,496.2L309.8,490.8L310.4,483.4L311.0,482.6L311.6,482.1L312.2,483.1L312.8,483.7L313.4,481.5L314.0,478.9L314.6,470.9L315.2,464.4L315.6,457.0L316.0,452.2L316.6,451.2L317.1,448.0L317.5,456.0L317.9,461.0L318.3,447.0L318.7,437.3L319.1,435.2L319.5,435.1L319.9,428.2L320.3,419.5L320.7,426.9L321.1,432.9L321.5,437.8L321.9,440.3L322.3,439.6L322.7,437.4L323.1,445.2L323.5,452.6L323.9,457.0L324.3,464.4L324.9,466.8L325.5,470.6L326.1,470.0L326.6,468.4L327.2,463.2L327.8,460.6L328.4,455.0L329.0,448.1L329.4,444.1L329.8,436.9L330.2,434.2L330.6,435.3L331.0,439.3L331.4,446.3L331.8,450.4L332.2,452.6L332.6,450.7L333.0,448.8L333.4,454.3L333.8,460.1L334.2,443.4L334.6,428.1L335.0,419.7L335.4,409.3L335.8,407.1L336.1,405.4L336.5,394.6L336.9,384.9L337.3,375.9L337.7,368.0L338.1,364.7L338.5,365.4L338.9,356.5L339.3,350.0L339.7,334.7L340.1,320.6L340.5,327.0L340.9,333.8L341.3,342.7L341.7,349.4L342.1,353.9L342.5,354.9L342.9,357.6L343.3,360.9L343.7,356.0L344.1,354.0L344.5,352.4L344.9,349.1L345.3,343.5L345.6,339.6L346.0,345.6L346.4,350.1L346.8,354.5L347.2,357.6L347.6,350.2L348.0,345.5L348.4,340.5L348.8,337.8L349.2,334.0L349.6,329.3L350.0,336.8L350.4,346.1L350.8,351.8L351.2,361.9L351.6,365.9L352.0,368.1L352.4,369.9L352.8,373.4L353.2,377.6L353.6,381.5L354.0,385.0L354.4,385.5L354.8,388.4L355.1,393.7L355.5,396.0L355.9,399.2L356.3,402.9L356.7,404.2L357.1,404.0L357.5,401.3L357.9,399.0L358.3,397.1L358.7,395.9L359.1,394.6L359.5,400.2L359.9,404.3L360.3,409.0L360.7,413.1L361.1,416.7L361.5,420.9L361.9,426.5L362.3,429.3L362.9,430.3L363.5,435.1L364.1,436.1L364.6,436.0L365.2,438.1L365.8,440.2L366.4,437.0L367.0,436.7L367.6,437.3L368.2,434.4L368.8,439.1L369.4,440.9L370.0,443.2L370.6,449.1L371.2,449.9L371.8,451.2L372.4,450.4L373.0,448.9L373.6,449.9L374.1,453.0L374.7,455.6L375.3,456.0L375.9,452.8L376.5,450.9L377.1,447.5L377.7,444.0L378.1,434.9L378.5,428.1L378.9,426.6L379.3,426.3L379.7,429.7L380.1,433.0L380.7,434.8L381.3,436.5L381.9,438.2L382.5,438.3L383.1,439.5L383.6,441.0L384.2,436.3L384.8,432.2L385.4,430.3L386.0,425.1L386.6,422.3L387.2,420.6L387.8,420.0L388.4,419.0L389.0,416.8L389.6,416.1L390.2,417.7L390.8,421.3L391.4,416.5L392.0,414.8L392.6,410.8L393.1,408.5L393.7,404.7L394.3,402.9L394.9,404.7L395.5,408.2L396.1,410.4L396.7,414.4L397.3,416.8L397.9,418.2L398.5,418.0L399.1,420.8L399.7,416.5L400.3,413.2L400.7,409.2L401.1,408.8L401.5,410.5L401.9,412.2L402.4,416.7L403.0,416.4L403.6,417.3L404.2,420.8L404.8,420.5L405.4,423.0L406.0,423.2L406.6,424.2L407.2,422.1L407.8,423.2L408.4,419.0L409.0,417.3L409.6,414.8L410.2,413.6L410.8,410.2L411.4,408.6L411.9,411.0L412.5,415.4L413.1,417.4L413.7,418.6L414.3,412.4L414.9,409.2L415.5,409.8L416.1,407.1L416.7,403.1L417.3,402.3L417.9,400.5L418.5,400.5L419.1,403.2L419.7,408.3L420.3,405.6L420.9,401.7L421.4,397.9L422.0,397.8L422.4,386.1L422.8,375.8L423.2,383.8L423.6,389.8L424.0,381.5L424.4,377.0L424.8,383.6L425.2,389.8L425.6,383.6L426.0,380.9L426.4,378.6L426.8,372.7L427.2,374.9L427.6,377.0L428.0,383.9L428.4,389.8L428.8,389.9L429.2,393.5L429.6,390.1L430.0,385.7L430.4,382.4L430.8,379.9L431.1,380.7L431.5,383.1L431.9,385.2L432.3,389.6L432.7,392.1L433.1,394.8L433.7,392.9L434.3,393.5L434.9,395.5L435.5,397.4L436.1,398.6L436.7,401.0L437.3,398.7L437.9,399.4L438.5,400.2L439.1,405.0L439.7,405.0L440.3,403.3L440.8,402.5L441.4,404.6L442.0,404.3L442.6,401.3L443.2,401.5L443.8,399.6L443.9,403.4L443.9,402.1L444.0,405.8L444.0,403.2L444.6,401.0L445.1,398.8L445.7,394.1L446.3,390.3L446.9,386.1L447.5,385.7L448.1,388.1L448.7,392.9L449.3,395.1L449.9,395.1L450.5,394.8L451.1,397.0L451.7,397.1L452.3,395.7L452.9,395.6L453.5,399.1L454.1,402.2L454.6,401.0L455.2,402.7L455.8,403.3L456.4,405.5L457.0,405.6L457.6,405.5L458.2,403.5L458.8,401.3L459.4,401.0L460.0,395.9L460.6,394.0L461.0,391.1L461.4,390.8L462.0,397.3L462.6,399.0L463.2,400.0L463.8,396.9L464.3,399.3L464.9,401.0L465.5,404.7L466.1,405.6L466.7,407.9L467.3,409.8L467.9,409.8L468.5,407.2L469.1,409.8L469.7,411.3L470.3,410.9L470.9,413.8L471.5,412.7L472.1,411.8L472.7,409.2L473.3,409.4L473.8,411.2L474.4,413.7L475.0,412.7L475.6,415.1L476.2,416.2L476.8,416.6L477.4,415.5L478.0,413.7L478.6,414.0L479.2,415.5L479.8,416.7L480.4,416.9L481.0,417.7L481.6,420.0L482.2,419.6L482.8,421.1L483.3,415.7L483.9,412.9L484.5,409.1L485.1,408.1L485.7,409.2L486.3,409.9L486.9,412.2L487.5,411.5L488.1,414.0L488.7,413.4L489.3,415.0L489.9,418.0L490.5,419.8L491.1,420.0L491.7,418.2L492.3,417.7L492.8,417.9L493.4,420.0L494.0,421.9L494.6,420.9L495.2,421.9L495.8,418.8L496.4,416.7L497.0,417.6L497.6,414.5L498.2,413.4L498.6,417.8L499.0,420.6L499.6,426.1L500.2,428.8L500.8,427.9L501.4,427.0L501.9,427.1L502.5,425.6L503.1,425.4L503.7,426.6L504.3,427.4L504.9,429.0L505.5,426.6L506.1,426.7L506.7,429.2L507.3,429.5L507.9,432.0L508.5,431.9L509.1,433.6L509.7,432.9L510.3,432.8L510.9,434.8L511.4,434.5L512.0,434.2L512.6,432.8L513.2,430.9L513.8,431.5L514.4,428.8L515.0,430.0L515.6,431.7L516.2,431.3L516.8,428.9L517.4,427.2L518.0,427.7L518.6,422.9L519.2,421.7L519.8,425.8L520.4,429.2L520.9,429.9L521.5,432.4L522.1,431.0L522.7,431.6L523.3,430.0L523.9,429.9L524.5,431.2L525.1,431.9L525.7,427.9L526.3,427.7L526.9,427.8L527.5,431.0L528.1,431.5L528.7,432.4L529.3,434.3L529.9,434.5L530.4,434.9L531.0,435.7L531.6,436.7L532.2,435.0L532.8,433.7L533.4,433.4L534.0,434.3L534.6,435.3L535.2,434.8L535.8,433.8L536.4,435.3L537.0,434.7L537.6,433.2L538.2,434.5L538.8,434.7L539.4,433.1L539.9,435.4L540.5,435.2L541.1,432.3L541.7,430.6L542.3,430.3L542.9,433.3L543.5,435.6L544.1,435.7L544.5,428.1L544.9,421.5L545.5,426.8L546.1,429.6L546.5,426.6L546.9,423.1L547.5,421.3L548.1,418.8L548.7,423.0L549.3,429.4L549.8,433.0L550.4,433.2L551.0,433.8L551.6,434.9L552.2,435.9L552.8,437.5L553.4,437.9L554.0,439.8L554.6,436.8L555.2,436.8L555.8,435.2L556.4,433.0L557.0,432.5L557.6,429.7L558.2,428.8L558.8,425.4L559.1,422.9L559.5,424.3L559.9,428.9L560.3,433.1L560.9,434.3L561.5,437.4L562.1,439.6L562.7,438.5L563.3,440.7L563.9,440.8L564.5,440.1L565.1,439.7L565.7,441.8L566.3,441.3L566.9,441.9L567.5,445.6L568.1,442.8L568.6,442.8L569.2,446.2L569.8,446.7L570.4,443.1L571.0,441.7L571.6,444.7L572.2,444.7L572.8,446.6L573.4,448.6L574.0,448.5L574.6,450.6L575.2,453.8L575.8,452.3L576.4,452.4L577.0,453.5L577.6,450.8L578.1,451.0L578.7,452.9L579.3,453.4L579.9,451.9L580.5,450.4L581.1,447.6L581.7,448.6L582.3,454.7L582.9,456.2L583.5,457.0L584.1,458.8L584.7,459.0L585.3,460.9L585.9,460.1L586.5,462.4L587.1,465.5L587.6,464.3L588.2,465.8L588.8,463.3L589.4,466.2L590.0,465.1L590.6,466.3L591.2,466.2L591.8,466.1L592.4,469.1L593.0,468.5L593.6,470.3L594.2,472.9L594.8,473.3L595.4,470.0L596.0,471.4L596.6,472.3L597.1,473.5L597.7,472.7L598.3,474.5L598.9,475.6L599.5,472.4L600.1,473.3L600.7,476.1L601.3,476.2L601.9,478.4L602.5,481.7L603.1,481.0L603.7,477.0L604.3,475.4L604.9,474.6L605.5,471.5L606.1,470.8L606.6,472.5L607.2,476.4L607.8,476.6L608.4,478.4L609.0,478.4L609.6,477.8L610.2,480.4L610.8,482.6L611.4,483.0L612.0,483.9L612.6,484.5L613.2,485.7L613.8,486.5L614.4,487.7L615.0,489.0L615.6,489.4L616.1,492.6L616.7,495.1L617.3,495.0L617.9,494.7L618.5,498.2L619.1,496.3L619.7,492.0L620.3,493.6L620.9,496.0L621.5,492.8L622.1,493.2L622.7,495.1L623.3,499.0L623.9,494.0L624.5,491.8L625.0,492.4L625.5,491.7L626.1,491.1L626.6,488.2L627.2,490.0L627.8,492.3L628.4,491.3L629.0,493.9L629.6,493.1L630.1,492.3L630.7,494.7L631.3,495.6L631.9,496.8L632.5,497.6L633.1,496.1L633.7,495.6L634.3,498.2L634.9,500.5L635.5,502.4L636.1,502.3L636.7,502.1L637.3,499.5L637.9,503.1L638.5,502.4L639.1,501.8L639.6,503.8L640.2,501.7L640.8,497.6L641.4,495.4L642.0,491.5L642.6,491.7L643.2,487.8L643.8,486.8L644.4,486.0L644.8,482.4L645.2,476.8L645.6,473.2L646.0,470.0L646.4,473.5L646.8,475.4L647.2,479.7L647.6,484.5L648.2,487.0L648.8,487.2L649.3,490.3L649.9,489.7L650.5,492.7L651.1,491.7L651.7,489.8L652.3,490.0L652.9,492.3L653.5,491.8L654.1,494.3L654.7,494.2L655.3,492.8L655.9,492.6L656.5,493.9L657.1,494.7L657.7,494.9L658.3,496.1L658.8,495.3L659.4,492.0L660.0,489.5L660.6,489.5L661.2,490.4L661.8,492.0L662.4,491.0L663.0,492.2L663.6,492.7L664.2,493.5L664.8,487.1L665.4,484.0L666.0,484.6L666.6,482.0L667.2,485.9L667.8,488.4L668.3,485.2L668.9,480.6L669.5,480.8L670.1,482.3L670.7,478.6L671.3,478.6L671.9,479.5L672.5,481.9L673.1,484.5L673.7,483.6L674.3,483.8L674.9,486.4L675.5,487.3L676.1,487.3L676.7,487.1L677.3,489.7L677.8,489.0L678.4,492.4L679.0,491.7L679.6,493.5L680.2,492.9L680.8,492.9L681.2,486.2L681.6,480.2L682.0,462.8L682.4,444.3L682.8,428.0L683.2,415.4L683.6,408.0L684.0,399.2L684.4,410.0L684.8,421.0L685.2,427.4L685.6,429.9L686.0,430.6L686.4,434.4L686.8,436.2L687.1,439.0L687.5,438.7L687.9,436.2L688.3,439.1L688.7,442.5L689.1,445.8L689.5,445.9L689.9,448.9L690.3,451.7L690.7,454.8L691.1,455.5L691.5,455.9L691.9,452.3L692.3,453.6L692.7,453.6L693.1,456.2L693.5,460.2L693.9,461.1L694.3,459.3L694.7,459.9L695.1,462.9L695.5,463.8L695.9,464.2L696.3,466.0L696.6,469.8L697.0,473.6L697.4,473.5L697.8,475.2L698.2,476.2L698.6,472.5L699.0,470.5L699.4,472.7L699.8,472.6L700.2,472.5L700.6,470.6L701.0,468.9L701.4,470.0L701.8,471.4L702.2,473.6L702.8,477.5L703.4,477.6L704.0,480.2L704.6,480.7L705.2,479.5L705.8,482.6L706.3,482.1L706.9,482.5L707.5,482.3L708.1,483.3L708.7,483.0L709.3,481.8L709.9,484.8L710.5,485.5L711.1,483.8L711.7,485.8L712.3,486.5L712.9,487.4L713.5,486.5L714.1,486.6L714.7,489.1L715.3,489.7L715.8,489.4L716.4,491.5L717.0,492.2L717.6,493.0L718.0,487.4L718.4,484.3L718.8,480.9L719.2,480.3L719.6,481.4L720.0,481.5L720.6,483.9L721.2,483.8L721.8,484.6L722.4,485.1L723.0,485.9L723.6,485.9L724.2,484.7L724.8,487.4L725.1,482.9L725.5,476.0L725.9,475.4L726.3,473.7L726.9,476.1L727.5,475.3L728.1,473.5L728.7,474.5L729.3,474.9L729.9,471.8L730.5,475.0L731.1,474.0L731.5,474.8L731.9,478.4L732.5,473.5L733.1,470.5L733.7,470.9L734.3,470.5L734.8,470.2L735.4,469.6L736.0,469.5L736.6,470.2L737.2,472.5L737.8,472.0L738.4,470.1L739.0,468.3L739.6,472.3L740.2,473.6L740.6,467.6L741.0,464.6L741.4,463.4L741.8,461.9L742.4,462.7L743.0,460.8L743.4,460.9L743.8,461.9L744.1,467.9L744.5,472.5L744.9,473.3L745.3,475.3L745.7,477.7L746.1,478.4L746.5,473.5L746.9,470.1L747.3,467.4L747.7,463.8L748.3,463.9L748.9,462.3L749.3,462.7L749.7,463.6L750.1,467.3L750.5,469.8L750.9,474.9L751.3,477.5L751.7,475.6L752.1,473.6L752.5,475.7L752.9,478.1L753.3,480.5L753.6,485.3L754.0,490.8L754.4,495.4L754.8,498.8L755.2,501.3L755.6,502.2L756.0,505.8L756.6,508.3L757.2,508.3L757.8,508.8L758.4,509.5L759.0,505.1L759.6,503.4L760.2,504.0L760.8,506.4L761.2,508.2L761.6,514.3L762.0,516.5L762.4,519.5L762.8,522.6L763.1,528.2L763.5,530.3L763.9,535.5L764.3,538.4L764.7,540.9L765.3,541.3L765.9,544.1L766.5,542.5L767.1,539.7L767.7,543.9L768.3,544.7L768.9,548.1L769.5,549.7L770.1,550.2L770.7,553.2L771.3,556.0L771.9,554.9L772.4,557.2L773.0,556.7L773.6,558.8L774.2,558.8L774.8,560.2L775.4,561.0L776.0,564.5L776.6,565.5L777.2,566.1L777.8,567.4L778.4,568.8L779.0,571.5L779.6,571.1L780.2,573.1L780.8,574.3L781.4,574.8L781.9,575.3L782.5,578.5L783.1,580.5L783.7,580.5L784.3,582.9L784.9,582.9L785.5,585.6L786.1,585.4L786.7,586.3L787.3,585.7L787.9,583.7L788.5,585.0L789.1,585.3L789.7,584.5L790.3,582.3L790.9,582.4L791.4,583.8L792.0,581.3L792.6,578.9L793.2,577.3L793.8,578.6L794.4,583.0L795.0,584.5L795.6,585.1L796.2,584.6L796.8,586.3L797.4,588.3L798.0,589.4L798.6,588.0L799.2,589.1L799.8,589.2L800.4,592.3L800.9,591.9L801.5,592.7L802.1,595.7L802.7,595.0L803.3,594.4L803.9,596.1L804.5,594.9L805.1,597.4L805.7,597.0L806.3,594.3L806.9,592.0L807.5,592.8L807.9,591.7L808.3,591.8" stroke="#fff" stroke-width="2.3" fill="none" stroke-linejoin="round"/>
<g stroke="#b8b8b8" stroke-width="1" fill="none">
<path d="M223.5,675 V703"/>
<path d="M375.5,675 V703"/>
<path d="M526.7,675 V703"/>
<path d="M677.5,675 V703"/>
</g>
<g stroke="#f0f0f0" stroke-width="1.2" fill="none">
<path d="M72,674.6 H830"/>
<path d="M828.3,290 V675"/>
<path d="M72.5,674.6 V678 M102.8,674.6 V678 M133.0,674.6 V678 M163.2,674.6 V678 M193.5,674.6 V678 M254.0,674.6 V678 M284.2,674.6 V678 M314.5,674.6 V678 M344.8,674.6 V678 M405.2,674.6 V678 M435.5,674.6 V678 M465.8,674.6 V678 M496.0,674.6 V678 M556.5,674.6 V678 M586.8,674.6 V678 M617.0,674.6 V678 M647.2,674.6 V678 M707.8,674.6 V678 M738.0,674.6 V678 M768.2,674.6 V678 M798.5,674.6 V678"/>
<path d="M828.3,658.4 H834.5 M828.3,634.9 H833 M828.3,611.3 H834.5 M828.3,587.8 H833 M828.3,564.2 H834.5 M828.3,540.7 H833 M828.3,517.1 H834.5 M828.3,493.6 H833 M828.3,470.0 H834.5 M828.3,446.5 H833 M828.3,422.9 H834.5 M828.3,399.4 H833 M828.3,375.8 H834.5 M828.3,352.2 H833 M828.3,328.7 H834.5 M828.3,305.2 H833"/>
</g>
<path d="M828.6,326.0 L835.3,328.7 L828.6,331.4 Z" fill="#fff"/>
<path d="M828.6,373.1 L835.3,375.8 L828.6,378.5 Z" fill="#fff"/>
<path d="M828.6,420.2 L835.3,422.9 L828.6,425.6 Z" fill="#fff"/>
<path d="M828.6,467.3 L835.3,470.0 L828.6,472.7 Z" fill="#fff"/>
<path d="M828.6,514.4 L835.3,517.1 L828.6,519.8 Z" fill="#fff"/>
<path d="M828.6,561.5 L835.3,564.2 L828.6,566.9 Z" fill="#fff"/>
<path d="M828.6,608.6 L835.3,611.3 L828.6,614.0 Z" fill="#fff"/>
<path d="M828.6,655.7 L835.3,658.4 L828.6,661.1 Z" fill="#fff"/>
<text x="836.5" y="332.7" font-family='"DejaVu Sans Condensed", "DejaVu Sans", "Liberation Sans", sans-serif' font-size="11" fill="#e8e8e8" textLength="28.3" lengthAdjust="spacingAndGlyphs">10.00</text>
<text x="836.5" y="379.8" font-family='"DejaVu Sans Condensed", "DejaVu Sans", "Liberation Sans", sans-serif' font-size="11" fill="#e8e8e8" textLength="22.0" lengthAdjust="spacingAndGlyphs">8.00</text>
<text x="836.5" y="426.9" font-family='"DejaVu Sans Condensed", "DejaVu Sans", "Liberation Sans", sans-serif' font-size="11" fill="#e8e8e8" textLength="22.0" lengthAdjust="spacingAndGlyphs">6.00</text>
<text x="836.5" y="474.0" font-family='"DejaVu Sans Condensed", "DejaVu Sans", "Liberation Sans", sans-serif' font-size="11" fill="#e8e8e8" textLength="22.0" lengthAdjust="spacingAndGlyphs">4.00</text>
<text x="836.5" y="521.1" font-family='"DejaVu Sans Condensed", "DejaVu Sans", "Liberation Sans", sans-serif' font-size="11" fill="#e8e8e8" textLength="22.0" lengthAdjust="spacingAndGlyphs">2.00</text>
<text x="836.5" y="568.2" font-family='"DejaVu Sans Condensed", "DejaVu Sans", "Liberation Sans", sans-serif' font-size="11" fill="#e8e8e8" textLength="22.0" lengthAdjust="spacingAndGlyphs">0.00</text>
<text x="836.5" y="615.3" font-family='"DejaVu Sans Condensed", "DejaVu Sans", "Liberation Sans", sans-serif' font-size="11" fill="#e8e8e8" textLength="25.6" lengthAdjust="spacingAndGlyphs">-2.00</text>
<text x="836.5" y="662.4" font-family='"DejaVu Sans Condensed", "DejaVu Sans", "Liberation Sans", sans-serif' font-size="11" fill="#e8e8e8" textLength="25.6" lengthAdjust="spacingAndGlyphs">-4.00</text>
<rect x="829" y="354" width="41" height="13" fill="#b4f5f5"/>
<text x="830" y="364.5" font-family='"DejaVu Sans Condensed", "DejaVu Sans", "Liberation Sans", sans-serif' font-size="11" fill="#103a5a" textLength="34.6" lengthAdjust="spacingAndGlyphs">8.6253</text>
<text transform="translate(871.5,422) rotate(90)" font-family='"DejaVu Sans", "Liberation Sans", sans-serif' font-size="12.2" fill="#d8d8d8" textLength="121" lengthAdjust="spacingAndGlyphs">Percentage Points</text>
<text x="120" y="700.5" font-family='"DejaVu Sans Condensed", "DejaVu Sans", "Liberation Sans", sans-serif' font-size="11" fill="#e8e8e8" textLength="35" lengthAdjust="spacingAndGlyphs">2000-2</text>
<rect x="155" y="690.5" width="51" height="13" fill="#b4f5f5"/>
<text x="156" y="700.5" font-family='"DejaVu Sans Condensed", "DejaVu Sans", "Liberation Sans", sans-serif' font-size="11" fill="#103a5a" textLength="49" lengthAdjust="spacingAndGlyphs">07/28/03</text>
<text x="272.05" y="700.5" font-family='"DejaVu Sans Condensed", "DejaVu Sans", "Liberation Sans", sans-serif' font-size="11" fill="#e8e8e8" textLength="53.9" lengthAdjust="spacingAndGlyphs">2005-2009</text>
<text x="423.05" y="700.5" font-family='"DejaVu Sans Condensed", "DejaVu Sans", "Liberation Sans", sans-serif' font-size="11" fill="#e8e8e8" textLength="53.9" lengthAdjust="spacingAndGlyphs">2010-2014</text>
<text x="574.55" y="700.5" font-family='"DejaVu Sans Condensed", "DejaVu Sans", "Liberation Sans", sans-serif' font-size="11" fill="#e8e8e8" textLength="53.9" lengthAdjust="spacingAndGlyphs">2015-2019</text>
<text x="726.05" y="700.5" font-family='"DejaVu Sans Condensed", "DejaVu Sans", "Liberation Sans", sans-serif' font-size="11" fill="#e8e8e8" textLength="53.9" lengthAdjust="spacingAndGlyphs">2020-2024</text>
<text x="76" y="721" font-family='"DejaVu Sans", "Liberation Sans", sans-serif' font-weight="700" font-size="11.2" fill="#fff" textLength="123" lengthAdjust="spacingAndGlyphs">Source:  Bloomberg</text>
<text x="751" y="721.5" font-family='"Liberation Sans", sans-serif' font-weight="700" font-size="21" fill="#fff" textLength="107" lengthAdjust="spacingAndGlyphs">Bloomberg</text>
<path d="M867.5,706 h12.5 a2,2 0 0 1 2,2 v11 a2,2 0 0 1 -2,2 h-4 l-2.2,2.6 l-2.2,-2.6 h-4.1 a2,2 0 0 1 -2,-2 v-11 a2,2 0 0 1 2,-2 z" fill="#fff"/>
<path d="M869.5,713 v5 M872.5,710.5 v7.5 M875.5,709 v9 M878.5,714 v4" stroke="#000" stroke-width="1.5" fill="none"/>
</g>
<g id="chart2">
<rect x="69" y="774" width="819.7" height="554.4" fill="#fff"/>
<text x="84" y="794.5" font-family='"Liberation Sans", sans-serif' font-weight="700" font-size="16.1" fill="#4c89c0" textLength="801" lengthAdjust="spacingAndGlyphs">Figure 3: Our position proxy based on cumulative daily changes of S&amp;P500 mini futures multiplied by</text>
<text x="84" y="819.5" font-family='"Liberation Sans", sans-serif' font-weight="700" font-size="16.1" fill="#4c89c0" textLength="221" lengthAdjust="spacingAndGlyphs">the sign of the price change</text>
<text x="84" y="852.5" font-family='"Liberation Sans", sans-serif' font-size="12.2" fill="#3a3a3a" textLength="247" lengthAdjust="spacingAndGlyphs">'000s of contracts. Last obs. 16th Apr 2024.</text>
<g stroke="#8c8c8c" stroke-width="1.2" fill="none">
<path d="M139.7,891.5 V1255.6"/>
<path d="M139.7,1127.7 H737"/>
<path d="M133.2,1256.5 H139.7 M135,1235.0 H139.7 M133.2,1213.5 H139.7 M135,1192.1 H139.7 M133.2,1170.6 H139.7 M135,1149.2 H139.7 M133.2,1127.7 H139.7 M135,1106.2 H139.7 M133.2,1084.8 H139.7 M135,1063.3 H139.7 M133.2,1041.9 H139.7 M135,1020.4 H139.7 M133.2,998.9 H139.7 M135,977.5 H139.7 M133.2,956.0 H139.7 M135,934.6 H139.7 M133.2,913.1 H139.7 M135,891.6 H139.7 M230.5,1127.7 V1132.8 M321.3,1127.7 V1132.8 M412.1,1127.7 V1132.8 M502.9,1127.7 V1132.8 M593.7,1127.7 V1132.8 M684.5,1127.7 V1132.8"/>
</g>
<text x="87.5" y="1263.8" font-family='"Liberation Sans", sans-serif' font-size="21.2" fill="#1a1a1a" textLength="34.1" lengthAdjust="spacingAndGlyphs">-300</text>
<text x="87.5" y="1220.8" font-family='"Liberation Sans", sans-serif' font-size="21.2" fill="#1a1a1a" textLength="34.1" lengthAdjust="spacingAndGlyphs">-200</text>
<text x="87.5" y="1177.9" font-family='"Liberation Sans", sans-serif' font-size="21.2" fill="#1a1a1a" textLength="34.1" lengthAdjust="spacingAndGlyphs">-100</text>
<text x="112.1" y="1135.0" font-family='"Liberation Sans", sans-serif' font-size="21.2" fill="#1a1a1a" textLength="9.5" lengthAdjust="spacingAndGlyphs">0</text>
<text x="93.1" y="1092.1" font-family='"Liberation Sans", sans-serif' font-size="21.2" fill="#1a1a1a" textLength="28.5" lengthAdjust="spacingAndGlyphs">100</text>
<text x="93.1" y="1049.2" font-family='"Liberation Sans", sans-serif' font-size="21.2" fill="#1a1a1a" textLength="28.5" lengthAdjust="spacingAndGlyphs">200</text>
<text x="93.1" y="1006.2" font-family='"Liberation Sans", sans-serif' font-size="21.2" fill="#1a1a1a" textLength="28.5" lengthAdjust="spacingAndGlyphs">300</text>
<text x="93.1" y="963.3" font-family='"Liberation Sans", sans-serif' font-size="21.2" fill="#1a1a1a" textLength="28.5" lengthAdjust="spacingAndGlyphs">400</text>
<text x="93.1" y="920.4" font-family='"Liberation Sans", sans-serif' font-size="21.2" fill="#1a1a1a" textLength="28.5" lengthAdjust="spacingAndGlyphs">500</text>
<text x="113.9" y="1288.3" font-family='"Liberation Sans", sans-serif' font-size="20.6" fill="#1a1a1a" textLength="51.5" lengthAdjust="spacingAndGlyphs">Jan-21</text>
<text x="207.2" y="1288.3" font-family='"Liberation Sans", sans-serif' font-size="20.6" fill="#1a1a1a" textLength="46.5" lengthAdjust="spacingAndGlyphs">Jul-21</text>
<text x="295.5" y="1288.3" font-family='"Liberation Sans", sans-serif' font-size="20.6" fill="#1a1a1a" textLength="51.5" lengthAdjust="spacingAndGlyphs">Jan-22</text>
<text x="388.8" y="1288.3" font-family='"Liberation Sans", sans-serif' font-size="20.6" fill="#1a1a1a" textLength="46.5" lengthAdjust="spacingAndGlyphs">Jul-22</text>
<text x="477.1" y="1288.3" font-family='"Liberation Sans", sans-serif' font-size="20.6" fill="#1a1a1a" textLength="51.5" lengthAdjust="spacingAndGlyphs">Jan-23</text>
<text x="570.5" y="1288.3" font-family='"Liberation Sans", sans-serif' font-size="20.6" fill="#1a1a1a" textLength="46.5" lengthAdjust="spacingAndGlyphs">Jul-23</text>
<text x="658.8" y="1288.3" font-family='"Liberation Sans", sans-serif' font-size="20.6" fill="#1a1a1a" textLength="51.5" lengthAdjust="spacingAndGlyphs">Jan-24</text>
<path d="M140.2,1128.1L140.8,1116.7L142.9,1111.5L143.8,1105.2L145.4,1109.4L146.5,1104.2L147.9,1103.1L149.2,1106.2L150.0,1102.1L151.2,1108.3L152.1,1126.0L153.3,1118.8L154.2,1110.4L155.4,1097.9L156.5,1089.2L157.9,1089.2L158.5,1100.0L160.4,1103.1L162.1,1108.3L163.8,1113.5L164.6,1093.8L165.6,1093.8L166.2,1117.7L167.9,1126.0L169.4,1133.3L171.5,1136.0L177.7,1136.0L178.8,1145.8L179.8,1145.8L180.8,1131.2L182.5,1139.6L183.5,1129.2L184.6,1106.2L186.7,1093.8L188.8,1086.5L190.2,1075.0L191.7,1078.1L192.9,1083.3L194.4,1078.8L195.8,1079.2L196.7,1095.8L197.9,1087.5L199.6,1090.6L200.8,1081.2L202.1,1082.9L203.3,1091.7L204.2,1112.5L205.4,1103.1L206.2,1128.1L207.5,1128.1L208.3,1112.5L209.6,1118.8L210.6,1110.0L213.1,1108.3L215.2,1107.3L217.3,1111.5L224.2,1111.5L225.0,1104.2L226.7,1106.2L227.7,1094.8L228.8,1081.2L230.4,1080.2L231.9,1069.8L233.3,1069.8L234.6,1083.3L235.6,1077.1L236.7,1092.7L237.9,1092.7L239.2,1077.1L240.4,1067.7L241.7,1068.8L242.9,1079.2L244.4,1084.4L245.8,1088.5L247.5,1084.4L249.2,1068.8L250.6,1066.7L252.1,1062.5L253.8,1050.0L255.4,1037.5L257.9,1036.5L259.6,1019.8L268.3,1019.8L269.4,1027.1L270.8,1018.8L272.1,1020.8L272.9,1030.2L274.2,1025.0L275.0,1031.2L276.2,1032.3L277.3,1022.9L278.3,1033.3L279.6,1033.3L280.8,1018.8L282.5,1010.4L284.0,1005.2L285.4,996.9L287.1,1002.1L288.3,995.8L289.6,993.8L290.8,970.8L292.3,967.7L293.3,972.9L294.4,966.7L295.4,965.6L296.5,956.2L297.9,955.8L299.2,961.5L300.2,956.2L301.2,956.2L302.1,966.7L303.3,966.7L304.2,983.3L305.4,997.9L314.2,997.9L314.8,981.2L316.2,977.1L317.5,974.0L318.8,978.1L320.0,976.0L321.2,979.2L322.5,978.1L323.5,984.4L324.6,968.8L325.6,970.8L326.7,984.4L327.7,978.1L328.8,983.3L330.0,1008.3L331.0,1016.7L332.1,1031.2L333.3,1032.3L334.6,1016.7L335.6,983.3L336.9,983.3L337.9,989.6L339.2,987.5L340.4,988.5L341.5,1004.2L342.9,1008.3L344.2,1035.4L345.6,1050.0L346.7,1060.4L347.9,1060.4L348.8,1049.0L350.0,1046.9L350.8,1060.4L352.1,1074.6L360.2,1074.6L361.2,1064.6L362.9,1057.3L364.0,1058.3L365.0,1066.7L366.5,1065.6L367.9,1069.8L369.2,1072.9L370.2,1085.4L371.7,1085.4L372.7,1077.1L374.2,1077.1L375.0,1105.2L376.2,1105.2L377.1,1091.7L378.3,1091.7L379.2,1127.1L380.4,1127.1L381.0,1097.9L382.1,1097.9L383.1,1120.8L384.6,1131.2L385.8,1137.5L387.3,1131.2L388.8,1145.8L390.0,1139.6L390.8,1130.2L391.9,1114.6L393.1,1114.6L394.6,1119.8L395.8,1124.0L397.1,1120.4L404.6,1120.4L406.0,1115.6L407.5,1115.6L408.8,1137.5L410.2,1137.5L411.2,1125.0L413.3,1125.0L415.0,1131.2L416.5,1142.7L417.5,1142.7L418.8,1129.2L420.0,1135.4L421.2,1129.2L422.7,1134.4L424.2,1130.2L425.4,1131.2L426.9,1141.7L428.3,1147.9L429.6,1161.5L430.8,1161.5L431.7,1142.7L432.9,1141.7L434.2,1142.7L435.0,1157.3L436.2,1160.4L437.3,1152.1L438.8,1155.2L439.6,1163.5L440.8,1163.5L441.7,1159.4L450.8,1159.4L451.9,1172.9L452.9,1186.5L454.0,1197.9L455.0,1212.5L456.2,1212.5L457.1,1191.7L458.3,1200.0L459.6,1208.3L461.2,1208.3L462.1,1200.0L463.3,1201.0L464.4,1195.8L465.4,1188.5L466.5,1195.8L467.5,1181.2L468.8,1190.6L470.0,1189.6L471.0,1195.8L472.1,1214.6L475.4,1214.6L476.2,1188.5L477.5,1188.5L478.8,1190.6L480.0,1192.7L481.7,1191.7L482.9,1193.8L484.2,1200.0L485.2,1200.0L486.2,1180.2L487.1,1180.2L487.9,1191.7L495.6,1191.7L496.7,1186.5L497.9,1186.5L499.2,1190.6L500.4,1197.9L501.9,1201.0L506.0,1201.0L507.1,1187.5L508.1,1177.1L509.2,1188.5L510.4,1188.5L511.2,1176.0L512.5,1170.8L513.3,1172.9L514.4,1161.5L515.8,1159.4L517.1,1146.9L518.3,1146.9L519.2,1160.4L520.4,1160.4L521.2,1175.0L522.5,1163.5L523.8,1146.9L524.8,1146.9L526.8,1155.8L528.2,1162.3L530.0,1155.8L531.9,1144.4L540.6,1144.4L541.5,1137.5L543.3,1128.3L544.7,1116.9L545.6,1094.0L547.5,1091.7L548.8,1097.4L550.2,1084.8L551.6,1080.2L553.0,1079.1L554.3,1073.3L555.7,1080.2L557.1,1073.3L558.9,1073.3L559.8,1056.1L561.2,1060.7L562.4,1074.5L564.0,1073.3L565.8,1071.0L567.4,1069.9L568.5,1050.4L569.5,1029.8L570.8,1029.8L572.2,1042.4L573.6,1018.3L575.0,1004.6L575.9,1002.3L576.8,1020.6L578.2,1008.0L586.4,1008.0L587.3,1003.4L588.7,1006.9L590.1,1016.0L591.0,1009.2L592.1,1010.3L593.3,1014.9L594.4,1026.4L596.0,1022.9L597.4,1000.0L598.3,993.1L599.7,994.3L600.6,981.7L601.5,982.8L602.5,1001.1L603.8,993.1L604.8,1001.1L606.1,995.4L607.5,996.6L608.4,1004.6L609.3,1011.5L610.7,1004.6L612.1,1010.3L613.5,1011.5L614.8,1025.2L615.8,1040.1L617.1,1036.7L618.5,1025.2L619.9,1021.8L621.3,1006.9L622.2,1002.3L623.5,1004.6L631.6,1004.6L632.7,1020.6L633.6,1039.0L635.5,1039.0L636.4,1033.2L637.8,1045.8L639.1,1045.8L640.0,1034.4L641.4,1025.2L642.3,1006.9L643.3,1006.9L644.2,1020.6L645.5,1020.6L646.9,1032.1L647.8,1045.8L648.8,1052.7L650.1,1061.9L651.5,1060.7L653.3,1055.0L655.2,1045.8L656.5,1039.0L657.9,1034.4L659.3,1025.2L660.7,1020.6L662.0,1017.2L663.9,1014.9L665.3,1013.8L666.6,1018.3L667.5,1013.8L668.9,1021.8L670.3,1022.9L677.4,1022.9L678.5,1018.3L679.9,1014.9L681.3,1001.1L682.2,1013.8L683.6,1021.8L685.0,1032.1L685.9,1017.2L686.8,1017.2L687.7,1034.4L689.1,1036.7L690.5,1041.3L691.4,1045.8L692.3,1029.8L693.7,1021.8L695.0,1014.9L696.0,1017.2L697.3,1003.4L698.3,1009.2L700.1,1008.0L701.0,997.7L701.9,977.1L703.3,978.2L704.7,981.7L705.6,1000.0L707.0,984.0L707.9,998.9L708.8,970.2L710.6,969.1L711.5,980.5L712.5,969.1L713.4,964.5L722.1,964.5L722.8,939.3L723.9,939.3L724.8,956.5L726.0,956.5L726.7,931.3L728.0,930.1L729.0,918.6L729.9,917.5L730.8,908.3L732.2,904.9L733.5,907.2L734.5,915.2L735.8,918.6L737.2,919.3" stroke="#4472c4" stroke-width="4" fill="none" stroke-linejoin="round" stroke-linecap="round"/>
<path d="M203.5,1186.7 H255" stroke="#4472c4" stroke-width="4" fill="none" stroke-linecap="round"/>
<text x="258.5" y="1193.8" font-family='"Liberation Sans", sans-serif' font-size="20.6" fill="#1a1a1a" textLength="145" lengthAdjust="spacingAndGlyphs">SPX Position Proxy</text>
<text x="84" y="1324" font-family='"Liberation Sans", sans-serif' font-size="11.4" fill="#3a3a3a" textLength="241" lengthAdjust="spacingAndGlyphs">Source: Bloomberg Finance L.P., J.P. Morgan.</text>
</g>
<g id="chart3">
<rect x="69.3" y="1388.4" width="819.2" height="752.6" fill="#fff"/>
<text x="88" y="1414.5" font-family='"Liberation Sans", sans-serif' font-weight="700" font-size="23" fill="#4c89c0" textLength="677" lengthAdjust="spacingAndGlyphs">Figure 5: Short interest on the SPY and QQQ US equity ETFs</text>
<text x="88" y="1461.5" font-family='"Liberation Sans", sans-serif' font-size="17.4" fill="#3a3a3a" textLength="632" lengthAdjust="spacingAndGlyphs">Short Interest as a % share of share outstanding. Last obs is for 15th Apr 2024</text>
<g stroke="#000" stroke-width="2.4" fill="none">
<path d="M160.1,1516.6 V2049 H863"/>
<path d="M152.8,2049.0 H160.1 M152.8,1982.6 H160.1 M152.8,1916.2 H160.1 M152.8,1849.9 H160.1 M152.8,1783.5 H160.1 M152.8,1717.1 H160.1 M152.8,1650.7 H160.1 M152.8,1584.3 H160.1 M152.8,1518.0 H160.1 M160.1,2049 V2057 M271.9,2049 V2057 M383.7,2049 V2057 M495.5,2049 V2057 M607.3,2049 V2057 M719.1,2049 V2057 M830.9,2049 V2057"/>
</g>
<text x="110.6" y="2056.4" font-family='"Liberation Sans", sans-serif' font-size="25.2" fill="#1a1a1a" textLength="28.2" lengthAdjust="spacingAndGlyphs">8%</text>
<text x="99.7" y="1990.0" font-family='"Liberation Sans", sans-serif' font-size="25.2" fill="#1a1a1a" textLength="39.1" lengthAdjust="spacingAndGlyphs">10%</text>
<text x="99.7" y="1923.6" font-family='"Liberation Sans", sans-serif' font-size="25.2" fill="#1a1a1a" textLength="39.1" lengthAdjust="spacingAndGlyphs">12%</text>
<text x="99.7" y="1857.3" font-family='"Liberation Sans", sans-serif' font-size="25.2" fill="#1a1a1a" textLength="39.1" lengthAdjust="spacingAndGlyphs">14%</text>
<text x="99.7" y="1790.9" font-family='"Liberation Sans", sans-serif' font-size="25.2" fill="#1a1a1a" textLength="39.1" lengthAdjust="spacingAndGlyphs">16%</text>
<text x="99.7" y="1724.5" font-family='"Liberation Sans", sans-serif' font-size="25.2" fill="#1a1a1a" textLength="39.1" lengthAdjust="spacingAndGlyphs">18%</text>
<text x="99.7" y="1658.1" font-family='"Liberation Sans", sans-serif' font-size="25.2" fill="#1a1a1a" textLength="39.1" lengthAdjust="spacingAndGlyphs">20%</text>
<text x="99.7" y="1591.7" font-family='"Liberation Sans", sans-serif' font-size="25.2" fill="#1a1a1a" textLength="39.1" lengthAdjust="spacingAndGlyphs">22%</text>
<text x="99.7" y="1525.4" font-family='"Liberation Sans", sans-serif' font-size="25.2" fill="#1a1a1a" textLength="39.1" lengthAdjust="spacingAndGlyphs">24%</text>
<text x="149.5" y="2086.6" font-family='"Liberation Sans", sans-serif' font-size="25.6" fill="#1a1a1a" textLength="22.5" lengthAdjust="spacingAndGlyphs">18</text>
<text x="261.4" y="2086.6" font-family='"Liberation Sans", sans-serif' font-size="25.6" fill="#1a1a1a" textLength="22.5" lengthAdjust="spacingAndGlyphs">19</text>
<text x="373.1" y="2086.6" font-family='"Liberation Sans", sans-serif' font-size="25.6" fill="#1a1a1a" textLength="22.5" lengthAdjust="spacingAndGlyphs">20</text>
<text x="484.9" y="2086.6" font-family='"Liberation Sans", sans-serif' font-size="25.6" fill="#1a1a1a" textLength="22.5" lengthAdjust="spacingAndGlyphs">21</text>
<text x="596.8" y="2086.6" font-family='"Liberation Sans", sans-serif' font-size="25.6" fill="#1a1a1a" textLength="22.5" lengthAdjust="spacingAndGlyphs">22</text>
<text x="708.6" y="2086.6" font-family='"Liberation Sans", sans-serif' font-size="25.6" fill="#1a1a1a" textLength="22.5" lengthAdjust="spacingAndGlyphs">23</text>
<text x="820.4" y="2086.6" font-family='"Liberation Sans", sans-serif' font-size="25.6" fill="#1a1a1a" textLength="22.5" lengthAdjust="spacingAndGlyphs">24</text>
<path d="M160.6,1961.9L161.6,1946.9L162.9,1937.5L164.0,1931.9L165.3,1916.9L166.3,1909.4L168.1,1904.7L169.6,1900.0L170.4,1871.9L171.5,1843.8L171.9,1823.1L172.8,1787.5L173.8,1774.4L175.3,1768.8L176.6,1755.6L177.9,1761.3L179.0,1748.1L180.3,1735.0L181.3,1750.0L182.2,1763.1L183.1,1766.9L184.1,1735.0L185.0,1765.0L185.9,1731.3L186.9,1722.8L187.8,1753.8L188.8,1793.1L189.7,1768.8L190.6,1804.4L191.8,1778.1L192.9,1761.3L194.0,1742.5L194.9,1736.9L195.9,1748.1L197.0,1759.4L198.1,1765.0L199.3,1783.8L200.0,1806.3L201.1,1806.3L201.9,1815.6L203.0,1818.4L204.1,1825.0L204.9,1841.9L205.6,1854.1L206.8,1836.3L207.5,1827.8L208.4,1838.1L209.8,1843.8L210.9,1841.9L212.0,1845.6L213.1,1834.4L214.3,1825.0L215.0,1810.0L216.1,1849.4L217.3,1826.9L218.4,1830.6L219.5,1843.8L220.6,1849.4L221.8,1856.9L222.9,1864.4L224.0,1870.0L225.1,1881.3L226.3,1871.9L227.4,1881.3L228.5,1875.6L229.6,1885.0L230.8,1877.5L231.9,1870.0L233.0,1858.8L233.8,1853.1L234.9,1862.5L236.0,1866.3L237.1,1858.8L238.3,1868.1L239.4,1873.8L240.5,1862.5L241.6,1843.8L242.8,1825.0L243.9,1806.3L244.6,1791.3L245.8,1815.6L246.9,1768.8L248.0,1750.0L248.8,1744.4L249.9,1746.3L251.0,1735.0L252.1,1731.3L252.5,1718.1L253.3,1761.3L254.4,1785.6L255.5,1787.5L256.3,1800.6L257.4,1793.1L258.5,1806.3L259.6,1796.9L260.9,1787.5L261.9,1775.3L263.4,1780.0L264.5,1774.4L266.0,1778.1L267.1,1774.4L268.3,1750.0L269.4,1744.4L270.1,1721.9L270.9,1731.3L271.6,1761.3L272.4,1712.5L273.1,1711.6L274.3,1720.0L275.0,1729.4L276.1,1735.0L277.3,1742.5L278.0,1759.4L278.8,1772.5L279.5,1787.5L280.3,1815.6L281.0,1836.3L282.1,1813.8L283.3,1825.0L284.4,1821.3L285.5,1838.1L286.6,1828.8L287.8,1827.8L288.9,1836.3L290.0,1853.1L290.8,1864.4L291.9,1853.1L293.0,1862.5L294.1,1855.0L294.9,1881.3L296.0,1886.9L297.1,1875.6L298.3,1888.8L299.4,1855.0L300.3,1855.9L301.3,1875.6L302.0,1892.5L303.1,1903.8L304.3,1883.1L305.4,1871.9L306.5,1853.1L307.6,1834.4L308.4,1813.8L309.5,1811.9L310.6,1806.3L311.8,1821.3L312.5,1799.7L313.6,1802.5L314.4,1811.9L315.5,1802.5L316.6,1817.5L317.4,1808.1L318.5,1811.9L319.3,1825.0L320.0,1838.1L320.8,1853.1L321.5,1868.1L322.3,1860.6L323.4,1870.0L324.5,1858.8L325.3,1842.8L326.4,1860.6L327.5,1853.1L328.6,1860.6L330.0,1858.8L331.1,1871.9L332.3,1892.5L333.4,1901.9L334.5,1907.5L335.6,1888.8L336.8,1877.5L337.5,1862.5L338.6,1873.8L339.4,1855.0L340.5,1877.5L341.6,1853.1L342.8,1862.5L343.5,1852.2L344.6,1853.1L345.8,1851.3L346.5,1862.5L347.6,1885.0L348.8,1881.3L349.9,1896.3L350.6,1873.8L351.8,1892.5L352.5,1870.9L353.6,1892.5L354.4,1903.8L355.5,1877.5L356.3,1858.8L357.4,1860.6L358.5,1855.0L359.6,1854.1L360.4,1866.3L361.5,1881.3L362.6,1907.5L363.8,1909.4L364.5,1916.9L365.3,1918.8L366.0,1900.0L366.8,1909.4L367.9,1892.5L368.6,1885.0L369.8,1900.0L370.5,1851.3L371.6,1850.3L372.8,1851.3L373.5,1877.5L374.3,1903.8L375.0,1888.8L375.8,1918.8L376.5,1922.5L377.6,1903.8L378.8,1907.5L379.5,1892.5L380.3,1886.9L381.0,1885.0L381.8,1903.8L382.5,1918.8L383.6,1922.5L384.8,1915.0L385.9,1922.5L387.0,1933.8L387.8,1943.1L388.9,1930.0L390.0,1944.1L391.1,1943.1L392.3,1926.3L393.4,1935.6L394.5,1937.5L395.6,1933.8L396.8,1935.6L397.9,1926.3L399.0,1915.0L399.8,1881.3L400.5,1843.8L401.3,1787.5L402.0,1736.9L402.8,1737.8L403.5,1823.1L404.3,1806.3L405.0,1720.0L405.8,1701.3L406.9,1680.6L408.0,1656.3L408.8,1637.5L409.5,1616.9L410.3,1615.0L411.0,1671.3L411.8,1618.8L412.5,1613.1L413.3,1637.5L414.0,1652.5L414.8,1637.5L415.5,1648.8L416.3,1671.3L417.0,1684.4L417.8,1701.3L418.5,1718.1L419.3,1701.3L420.0,1721.9L420.8,1733.1L421.5,1712.5L422.3,1699.4L423.0,1705.0L423.8,1710.6L424.9,1706.9L426.0,1698.4L426.8,1706.9L427.5,1716.3L428.6,1723.8L429.4,1736.9L430.5,1729.4L431.3,1750.0L432.4,1740.6L433.5,1755.6L434.3,1765.0L435.4,1750.0L436.1,1736.9L436.9,1731.3L437.6,1721.9L438.8,1753.8L439.5,1731.3L440.3,1721.9L441.0,1723.8L442.1,1735.0L443.3,1744.4L444.4,1750.0L445.5,1759.4L446.3,1772.5L447.4,1783.8L448.1,1795.0L449.3,1798.8L450.4,1800.6L451.5,1802.5L452.6,1806.3L453.8,1798.8L454.9,1800.6L456.0,1796.9L457.1,1791.3L457.9,1788.4L458.6,1806.3L459.8,1817.5L460.5,1828.8L461.3,1841.9L462.0,1851.3L462.8,1854.1L463.5,1847.5L464.3,1840.0L465.4,1828.8L466.5,1825.0L467.6,1821.3L468.4,1787.5L469.1,1823.1L470.3,1811.9L471.4,1806.3L472.5,1804.4L473.6,1800.6L474.8,1796.9L475.9,1792.2L477.0,1795.0L478.1,1804.4L479.3,1813.8L480.4,1828.8L481.5,1823.1L482.6,1819.4L483.8,1817.5L484.9,1813.8L486.0,1811.9L486.8,1828.8L487.9,1821.3L489.0,1811.9L489.8,1804.4L490.9,1799.7L491.6,1813.8L492.4,1825.0L493.1,1838.1L494.3,1841.9L495.0,1849.4L495.8,1854.1L496.9,1851.3L498.0,1852.2L499.1,1853.1L500.3,1854.1L501.4,1843.8L502.5,1830.6L503.6,1819.4L504.4,1806.3L505.0,1796.9L506.5,1795.0L507.6,1793.1L508.8,1791.3L509.9,1780.0L511.0,1765.0L511.8,1736.9L512.5,1738.8L513.3,1755.6L514.0,1734.1L514.8,1742.5L515.9,1746.3L517.0,1748.1L518.1,1750.0L519.3,1761.3L520.4,1768.8L521.5,1781.9L522.6,1785.6L523.4,1802.5L524.5,1817.5L525.6,1819.4L526.8,1825.0L527.5,1828.8L528.6,1829.7L529.4,1819.4L530.5,1815.6L531.6,1821.3L532.4,1851.3L533.1,1825.0L533.9,1836.3L534.6,1843.8L535.8,1855.0L536.5,1861.6L537.6,1851.3L538.8,1849.4L539.9,1847.5L541.0,1845.6L542.1,1841.9L543.3,1832.5L544.4,1821.3L545.5,1811.9L546.3,1810.9L547.4,1821.3L548.5,1836.3L549.6,1840.0L550.8,1839.1L551.9,1851.3L553.0,1860.6L554.1,1862.5L555.3,1867.2L556.4,1862.5L557.5,1851.3L558.6,1841.9L559.8,1838.1L560.5,1841.9L561.3,1828.8L562.4,1836.3L563.5,1834.4L564.6,1833.4L565.8,1832.5L566.9,1825.0L568.0,1817.5L568.8,1810.0L569.5,1808.1L570.3,1830.6L571.0,1841.9L571.8,1826.9L572.5,1836.3L573.3,1851.3L574.0,1873.8L575.1,1871.9L575.9,1851.3L577.0,1841.9L578.1,1834.4L579.3,1825.0L580.4,1824.1L581.9,1825.0L583.0,1826.9L584.1,1832.5L585.3,1838.1L586.0,1847.5L586.8,1858.8L587.5,1870.9L588.6,1870.0L589.8,1855.9L590.5,1866.3L591.6,1868.1L592.8,1864.4L593.9,1858.8L595.0,1849.4L596.1,1843.8L597.3,1842.8L598.0,1873.8L598.8,1843.8L599.9,1842.8L601.0,1845.6L602.1,1851.3L603.3,1866.3L604.4,1881.3L605.1,1892.5L606.3,1903.8L607.4,1915.0L608.5,1916.9L609.6,1917.8L610.8,1916.9L611.9,1913.1L613.0,1900.0L614.1,1885.0L615.3,1870.0L616.4,1862.5L617.5,1858.8L618.6,1856.9L619.8,1851.3L620.9,1843.8L622.0,1832.5L623.1,1821.3L623.9,1811.9L624.6,1802.5L625.4,1803.4L626.1,1821.3L626.9,1806.3L628.0,1808.1L629.1,1807.2L630.3,1810.0L631.4,1821.3L632.5,1832.5L633.6,1840.0L634.8,1840.9L635.5,1853.1L636.3,1866.3L637.4,1868.1L638.5,1867.2L639.6,1865.3L640.8,1858.8L641.9,1856.9L643.0,1849.4L643.8,1836.3L644.5,1821.3L645.6,1819.4L646.8,1821.3L647.9,1811.9L649.0,1806.3L650.1,1805.3L651.3,1817.5L652.0,1804.4L653.1,1802.5L653.9,1791.3L655.0,1789.4L656.1,1780.0L657.3,1768.8L658.0,1759.4L658.8,1768.8L659.9,1772.5L660.6,1785.6L661.4,1795.0L662.1,1817.5L662.9,1781.9L663.6,1815.6L664.8,1806.3L665.9,1798.8L667.0,1795.0L668.1,1783.8L669.3,1780.0L670.4,1783.8L671.5,1781.9L672.6,1795.0L673.8,1778.1L674.9,1777.2L676.0,1785.6L677.1,1789.4L678.3,1795.0L679.4,1804.4L680.5,1806.3L681.6,1817.5L682.4,1789.4L683.5,1791.3L684.3,1768.8L685.4,1755.6L686.1,1754.7L690.0,1778.1L690.8,1806.3L691.5,1840.0L692.3,1811.9L693.4,1812.8L694.5,1812.8L695.6,1825.0L696.8,1840.0L697.9,1851.3L699.0,1873.8L700.1,1892.5L700.9,1897.2L701.6,1881.3L702.8,1879.4L703.9,1883.1L705.0,1888.8L706.1,1896.3L707.3,1901.9L708.4,1903.8L709.1,1907.5L709.9,1875.6L710.6,1900.0L711.8,1896.3L712.9,1903.8L713.6,1912.2L714.8,1900.0L715.9,1892.5L717.0,1888.8L718.1,1881.3L718.9,1866.3L719.6,1855.0L720.4,1855.9L721.5,1862.5L722.6,1871.9L723.8,1881.3L724.9,1888.8L726.0,1896.3L727.1,1900.0L728.3,1903.8L729.4,1907.5L730.5,1903.8L731.6,1900.0L732.8,1898.1L733.9,1898.1L735.0,1888.8L736.1,1870.0L736.9,1840.0L738.0,1839.1L739.1,1838.1L740.3,1825.0L741.0,1806.3L741.8,1796.9L742.5,1806.3L743.6,1825.0L744.4,1843.8L745.5,1851.3L746.3,1858.8L747.0,1870.0L747.8,1879.4L748.9,1880.3L750.0,1877.5L751.1,1876.6L752.3,1875.6L753.4,1870.0L754.5,1862.5L755.6,1855.0L756.8,1856.9L757.9,1862.5L759.0,1866.3L760.1,1871.9L761.3,1873.8L762.4,1890.6L763.5,1871.9L764.6,1886.9L765.8,1873.8L766.9,1871.9L768.0,1885.0L769.1,1886.9L770.3,1873.8L771.4,1870.0L772.5,1873.8L773.6,1875.6L774.8,1881.3L775.9,1888.8L777.0,1896.3L778.1,1898.1L779.3,1892.5L780.4,1881.3L781.5,1873.8L782.3,1871.9L783.4,1879.4L784.5,1881.3L785.6,1886.9L786.4,1885.9L787.1,1900.0L787.9,1918.8L788.6,1926.3L789.8,1918.8L790.9,1915.0L792.0,1911.3L793.1,1909.4L794.3,1908.4L795.4,1909.4L796.5,1907.5L797.6,1906.6L798.8,1907.5L799.9,1922.5L801.0,1924.4L801.8,1930.0L802.5,1918.8L803.6,1911.3L804.8,1903.8L805.9,1900.0L807.0,1901.9L808.1,1907.5L809.3,1911.3L810.0,1916.9L811.1,1911.3L812.3,1922.5L813.4,1913.1L814.5,1918.8L815.6,1915.0L816.8,1912.2L817.9,1918.8L819.0,1920.6L820.1,1933.8L821.3,1941.3L822.4,1952.5L823.5,1956.3L824.3,1967.5L825.4,1948.8L826.5,1939.4L827.3,1937.5L828.0,1956.3L828.8,1967.5L829.5,1986.3L830.3,1995.6L831.0,2003.1L832.1,1975.0L833.3,1956.3L834.4,1937.5L835.5,1915.0L836.6,1913.1L837.8,1907.5L838.5,1905.6L839.3,1918.8L840.4,1922.5L841.5,1918.8L842.3,1906.6L843.0,1905.6L843.8,1930.0L844.5,1941.3L845.3,1963.8L846.4,1965.6L847.5,1965.6L848.6,1954.4L849.4,1963.8L850.5,1953.4L851.3,1965.6L852.4,1952.5L853.5,1954.4L854.6,1947.8L855.4,1952.5L856.1,1967.5L856.9,1978.8L858.0,1980.6L859.1,1980.6L860.3,1981.6L861.0,1993.8L862.1,1999.4L862.9,2012.5" stroke="#000" stroke-width="2.9" fill="none" stroke-linejoin="round"/>
<path d="M160.6,1877.5L161.4,1853.1L162.1,1836.3L162.9,1847.5L163.6,1819.4L164.4,1830.6L165.1,1806.3L165.9,1821.3L166.6,1791.3L167.4,1790.3L168.1,1815.6L168.9,1793.1L169.6,1791.3L170.4,1806.3L171.1,1768.8L171.9,1740.6L172.6,1712.5L173.4,1690.0L173.8,1681.6L174.5,1688.1L175.3,1712.5L176.0,1727.5L176.8,1723.8L177.5,1750.0L178.3,1787.5L179.0,1821.3L180.1,1830.6L180.9,1849.4L181.6,1881.3L182.4,1915.0L183.1,1916.9L183.9,1849.4L184.6,1866.3L185.4,1858.8L186.1,1840.0L186.9,1834.4L187.6,1843.8L188.4,1864.4L189.1,1877.5L189.9,1892.5L190.6,1900.0L191.4,1918.8L192.1,1926.3L193.3,1909.4L194.0,1892.5L194.8,1855.0L195.9,1853.1L196.6,1881.3L197.4,1862.5L198.1,1847.5L198.9,1845.6L199.6,1892.5L200.4,1896.3L201.1,1885.0L201.9,1888.8L202.6,1900.0L203.4,1918.8L204.1,1937.5L204.9,1945.0L206.0,1961.9L206.8,1960.0L207.5,1941.3L208.3,1918.8L209.0,1892.5L209.8,1870.0L210.5,1849.4L211.3,1836.3L212.0,1849.4L212.8,1862.5L213.5,1877.5L214.3,1903.8L215.0,1923.4L216.1,1922.5L216.9,1873.8L217.6,1885.0L218.4,1896.3L219.1,1881.3L219.9,1898.1L220.6,1903.8L221.4,1892.5L222.1,1870.0L222.9,1853.1L223.6,1825.0L224.4,1780.0L225.1,1779.1L225.9,1825.0L226.6,1840.0L227.4,1858.8L228.1,1868.1L229.3,1856.9L230.0,1866.3L230.8,1873.8L231.5,1858.8L232.6,1862.5L233.8,1871.9L234.9,1885.0L235.6,1888.8L236.8,1870.0L237.5,1849.4L238.3,1825.0L239.0,1823.1L239.8,1843.8L240.5,1866.3L241.3,1890.6L242.0,1907.5L243.1,1908.4L244.3,1909.4L245.0,1896.3L245.8,1871.9L246.5,1840.0L247.3,1787.5L248.0,1750.0L248.8,1749.1L249.5,1755.6L250.3,1780.0L251.0,1798.8L251.8,1806.3L252.5,1830.6L253.6,1828.8L254.4,1798.8L255.1,1804.4L255.9,1832.5L256.6,1811.9L257.4,1821.3L258.1,1837.2L258.9,1838.1L259.6,1825.0L260.4,1821.3L261.1,1817.5L261.9,1806.3L262.6,1787.5L263.4,1783.8L264.1,1789.4L264.9,1781.9L265.6,1795.0L266.4,1787.5L267.1,1780.0L268.3,1779.1L269.0,1796.9L269.8,1810.0L270.5,1825.0L271.3,1840.0L272.0,1851.3L272.8,1855.0L273.5,1870.0L274.3,1881.3L275.0,1892.5L275.8,1894.4L276.5,1905.6L277.3,1909.4L278.0,1918.8L278.8,1930.0L279.5,1948.8L280.3,1956.3L281.0,1973.1L282.1,1975.0L282.9,1952.5L283.6,1965.6L284.4,1950.6L285.1,1967.5L285.9,1956.3L286.6,1971.3L287.4,1956.3L288.1,1978.8L289.3,1986.3L290.4,1990.9L291.5,1988.1L292.6,1975.0L293.4,1946.9L294.1,1945.0L294.9,1967.5L296.0,1965.6L297.1,1956.3L298.3,1963.8L299.0,1926.3L299.8,1925.3L300.5,1930.0L301.3,1937.5L302.4,1945.0L303.1,1956.3L304.3,1971.3L305.4,1969.4L306.5,1967.5L307.6,1965.6L308.8,1963.8L309.5,1948.8L310.3,1918.8L311.0,1900.0L311.8,1881.3L312.5,1870.0L313.3,1869.1L314.0,1903.8L314.8,1881.3L315.5,1879.4L316.3,1892.5L317.0,1903.8L317.8,1881.3L318.5,1892.5L319.3,1905.6L320.0,1894.4L320.8,1900.0L321.5,1909.4L322.3,1918.8L323.0,1922.5L323.8,1930.0L324.5,1937.5L325.3,1946.9L326.0,1960.0L326.8,1967.5L327.5,1968.4L328.3,1956.3L329.0,1937.5L330.0,1881.3L331.1,1892.5L332.3,1900.0L333.4,1907.5L334.5,1905.6L335.3,1922.5L336.0,1937.5L336.8,1952.5L337.5,1963.8L338.3,1946.9L339.0,1922.5L339.8,1926.3L340.5,1933.8L341.6,1930.0L342.4,1911.3L343.1,1904.7L344.3,1904.7L345.0,1911.3L345.8,1918.8L346.5,1930.0L347.6,1941.3L348.8,1948.8L349.9,1952.5L351.0,1954.4L352.1,1948.8L353.3,1950.6L354.4,1967.5L355.5,1980.6L356.3,1956.3L357.4,1948.8L358.1,1946.9L358.9,1952.5L359.6,1965.6L360.4,1975.0L361.5,1986.3L362.6,1987.2L363.8,1991.9L364.9,1996.6L365.6,1986.3L366.4,1967.5L367.1,1965.6L368.3,1978.8L369.0,1967.5L369.8,1956.3L370.9,1937.5L372.0,1922.5L373.1,1911.3L374.3,1907.5L375.4,1907.5L376.5,1900.0L377.6,1911.3L378.8,1903.8L379.9,1900.0L381.0,1901.9L382.1,1900.0L383.3,1898.1L384.4,1900.0L385.5,1896.3L386.6,1898.1L387.8,1903.8L388.9,1900.0L389.6,1885.0L390.4,1879.4L391.1,1880.3L391.9,1892.5L392.6,1892.5L393.8,1900.0L394.9,1911.3L396.0,1922.5L397.1,1930.0L398.3,1933.8L399.4,1937.5L400.5,1948.8L401.6,1950.6L402.8,1937.5L403.5,1907.5L404.3,1892.5L405.0,1862.5L405.8,1843.8L406.5,1829.7L407.6,1828.8L408.4,1841.9L409.1,1845.6L410.3,1847.5L411.0,1845.6L411.8,1858.8L412.9,1862.5L413.6,1870.0L414.4,1888.8L415.1,1900.0L415.9,1903.8L417.0,1911.3L418.1,1915.0L419.3,1915.9L420.4,1916.9L421.5,1915.0L422.6,1907.5L423.4,1903.8L424.1,1894.4L424.9,1903.8L426.0,1901.9L426.8,1915.0L427.5,1926.3L428.3,1937.5L429.4,1952.5L430.5,1960.0L431.6,1950.6L432.8,1956.3L433.9,1965.6L435.0,1956.3L436.1,1937.5L437.3,1918.8L438.4,1907.5L439.5,1906.6L440.6,1905.6L441.8,1907.5L442.9,1915.0L444.0,1930.0L445.1,1937.5L445.9,1952.5L446.6,1967.5L447.4,1982.5L448.1,1993.8L448.9,2001.3L450.0,1999.4L450.8,1990.0L451.5,1978.8L452.3,1967.5L453.0,1960.0L454.1,1956.3L455.3,1950.6L456.4,1946.9L457.5,1941.3L458.6,1930.0L459.8,1918.8L460.9,1911.3L462.0,1901.9L463.1,1900.0L464.3,1901.9L465.4,1915.0L466.5,1922.5L467.6,1930.0L468.8,1941.3L469.9,1945.0L470.6,1956.3L471.4,1976.9L472.1,1979.7L472.9,1973.1L474.0,1971.3L475.1,1965.6L476.3,1967.5L477.4,1963.8L478.1,1948.8L478.9,1933.8L479.6,1918.8L480.4,1903.8L481.1,1900.0L482.3,1901.9L483.4,1907.5L484.5,1911.3L485.6,1915.0L486.8,1916.9L487.9,1918.8L489.0,1922.5L490.1,1923.4L491.3,1926.3L492.4,1937.5L493.5,1948.8L494.6,1960.0L495.4,1966.6L496.5,1960.0L497.6,1952.5L498.8,1946.9L499.9,1945.0L501.0,1943.1L502.1,1941.3L503.3,1937.5L504.4,1930.0L505.0,1933.8L506.1,1922.5L507.3,1911.3L508.4,1903.8L509.5,1900.0L510.6,1892.5L511.4,1877.5L512.1,1843.8L512.9,1815.6L514.0,1813.8L515.1,1806.3L516.3,1799.7L517.4,1800.6L518.5,1810.0L519.6,1825.0L520.8,1834.4L521.5,1862.5L522.3,1868.1L523.4,1862.5L524.1,1870.0L525.3,1886.9L526.4,1894.4L527.5,1903.8L528.6,1913.1L529.8,1903.8L530.9,1896.3L532.0,1894.4L533.1,1892.5L534.3,1881.3L535.4,1877.5L536.5,1876.6L537.6,1877.5L538.8,1888.8L539.9,1903.8L541.0,1911.3L542.1,1907.5L543.3,1900.0L544.0,1894.4L545.1,1893.4L545.9,1894.4L547.0,1907.5L548.1,1915.0L549.3,1922.5L550.4,1930.0L551.5,1937.5L552.6,1941.3L553.8,1948.8L554.9,1956.3L556.0,1961.9L557.1,1956.3L558.3,1937.5L559.4,1933.8L560.5,1931.9L561.6,1931.9L562.8,1928.1L563.9,1927.2L565.0,1922.5L566.1,1918.8L567.3,1911.3L568.4,1910.3L569.5,1909.4L570.6,1918.8L571.8,1926.3L572.9,1928.1L574.0,1933.8L575.1,1935.6L576.3,1931.9L577.4,1932.8L578.5,1930.0L579.6,1926.3L580.8,1922.5L581.9,1916.9L583.0,1915.0L584.1,1914.1L585.3,1913.1L586.4,1922.5L587.5,1930.0L588.6,1926.3L589.8,1918.8L590.9,1915.0L592.0,1907.5L593.1,1903.8L594.3,1896.3L595.4,1888.8L596.5,1881.3L597.6,1879.4L598.8,1880.3L599.9,1886.9L601.0,1881.3L601.8,1881.3L602.5,1900.0L603.3,1918.8L604.0,1937.5L604.8,1956.3L605.5,1963.8L606.3,1975.0L607.0,1986.3L607.8,1988.1L608.9,1986.3L610.0,1975.0L611.1,1956.3L612.3,1952.5L613.4,1937.5L614.5,1922.5L615.6,1907.5L616.8,1896.3L617.9,1903.8L619.0,1898.1L620.1,1896.3L621.3,1886.9L622.0,1885.0L622.8,1892.5L623.9,1889.7L625.0,1900.0L626.1,1903.8L627.3,1901.9L628.4,1907.5L629.5,1909.4L630.6,1911.3L631.8,1915.0L632.9,1918.8L634.0,1926.3L635.1,1933.8L636.3,1943.1L637.4,1939.4L638.5,1935.6L639.6,1933.8L640.8,1931.9L641.9,1926.3L643.0,1918.8L644.1,1903.8L645.3,1901.9L646.4,1903.8L647.5,1900.0L648.6,1896.3L649.8,1900.0L650.9,1907.5L652.0,1909.4L653.1,1915.0L654.3,1916.9L655.4,1907.5L656.5,1900.0L657.6,1892.5L658.4,1885.0L659.5,1888.8L660.6,1894.4L661.8,1898.1L662.9,1905.6L664.0,1918.8L665.1,1930.0L666.3,1948.8L667.4,1967.5L668.1,1974.1L669.3,1969.4L670.4,1963.8L671.5,1956.3L672.6,1937.5L673.8,1926.3L674.9,1918.8L676.0,1911.3L676.8,1900.0L677.9,1903.8L679.0,1907.5L680.1,1915.0L681.3,1915.0L682.4,1907.5L683.5,1888.8L684.3,1862.5L685.0,1849.4L690.0,1847.5L691.1,1849.4L691.9,1862.5L692.6,1881.3L693.4,1900.0L694.1,1918.8L694.9,1930.0L695.6,1933.8L696.8,1930.0L697.9,1926.3L699.0,1930.0L700.1,1918.8L701.3,1916.9L702.4,1920.6L703.5,1930.0L704.6,1933.8L705.8,1941.3L706.9,1948.8L708.0,1952.5L709.1,1956.3L710.3,1954.4L711.4,1955.3L712.5,1954.4L713.6,1963.8L714.8,1961.9L715.9,1952.5L717.0,1950.6L718.1,1948.8L719.3,1935.6L720.0,1933.8L721.1,1937.5L722.3,1941.3L723.4,1952.5L724.1,1958.1L725.3,1952.5L726.4,1943.1L727.5,1933.8L728.6,1926.3L729.8,1903.8L730.9,1892.5L732.0,1877.5L733.1,1851.3L734.3,1850.3L735.4,1849.4L736.5,1850.3L737.6,1851.3L738.8,1855.0L739.9,1862.5L741.0,1870.0L742.1,1873.8L743.3,1881.3L744.4,1885.0L745.5,1881.3L746.6,1883.1L747.8,1892.5L748.9,1900.0L750.0,1907.5L751.1,1911.3L752.3,1909.4L753.4,1907.5L754.5,1909.4L755.6,1907.5L756.8,1911.3L757.9,1916.9L759.0,1918.8L760.1,1915.0L761.3,1911.3L762.4,1909.4L763.5,1907.5L764.6,1903.8L765.8,1901.9L766.9,1907.5L768.0,1909.4L769.1,1911.3L770.3,1915.0L771.4,1907.5L772.5,1905.6L773.6,1907.5L774.8,1915.0L775.9,1922.5L777.0,1930.0L778.1,1933.8L779.3,1931.9L780.4,1932.8L781.5,1933.8L782.6,1931.9L783.8,1932.8L784.9,1933.8L785.6,1935.6L786.4,1945.0L787.1,1946.9L788.3,1937.5L789.4,1933.8L790.5,1930.0L791.6,1928.1L792.8,1926.3L793.9,1927.2L795.0,1933.8L796.1,1935.6L797.3,1945.0L798.4,1956.3L799.1,1967.5L800.3,1968.4L801.4,1970.3L802.5,1969.4L803.3,1948.8L804.0,1931.9L805.1,1937.5L806.3,1945.0L807.4,1952.5L808.5,1960.0L809.6,1956.3L810.8,1948.8L811.9,1943.1L813.0,1941.3L813.8,1945.0L814.9,1956.3L816.0,1967.5L817.1,1969.4L818.3,1975.0L819.0,1963.8L819.8,1975.9L820.9,1960.0L822.0,1954.4L822.8,2003.1L823.5,1993.8L824.3,1982.5L825.0,1975.0L826.1,1967.5L826.9,1960.0L828.0,1967.5L829.1,1975.0L830.3,1982.5L831.4,1993.8L832.5,1997.5L833.6,2003.1L834.8,2008.8L835.9,2012.5L837.0,2003.1L838.1,2008.8L839.3,2005.0L840.0,2020.0L841.1,2003.1L842.3,2005.0L843.4,2012.5L844.1,1993.8L844.9,1975.0L845.6,1967.5L846.8,1968.4L847.9,1967.5L849.0,1969.4L849.8,1982.5L850.5,1986.3L851.3,2001.3L852.0,2016.3L852.8,2031.3L853.5,2033.1L854.6,2027.5L855.4,2012.5L856.1,1993.8L856.9,1986.3L858.0,1987.2L859.1,1988.1L859.9,2008.8L860.6,1997.5L861.8,2012.5L862.9,2023.8L864.0,2030.3" stroke="#4f8fc4" stroke-width="3.6" fill="none" stroke-linejoin="round"/>
<path d="M607.5,1540.5 H667.5" stroke="#000" stroke-width="2.6" fill="none"/>
<path d="M607.5,1567.3 H667.5" stroke="#4f8fc4" stroke-width="3.3" fill="none"/>
<text x="672.5" y="1548.5" font-family='"Liberation Sans", sans-serif' font-size="24.5" fill="#1a1a1a" textLength="133" lengthAdjust="spacingAndGlyphs">SPY US Equity</text>
<text x="672.5" y="1575" font-family='"Liberation Sans", sans-serif' font-size="24.5" fill="#1a1a1a" textLength="140" lengthAdjust="spacingAndGlyphs">QQQ US Equity</text>
<text x="88" y="2128.7" font-family='"Liberation Sans", sans-serif' font-size="15.6" fill="#3a3a3a" textLength="184" lengthAdjust="spacingAndGlyphs">Source: S3, J.P. Morgan.</text>
</g>
</svg>
<div class="src">Source: Bloomberg, JPM</div>
<svg class="abs" style="left:300px;top:2280px" width="360" height="100" viewBox="300 2280 360 100">
<path d="M323,2324.2 L346.7,2324.2 C358,2314 368,2301 384.5,2301 C393,2301 400,2304.5 406,2309 L406,2339.8 L383.3,2339.8 C372,2350 361,2363 344.4,2363 C336,2363 329,2359.5 323,2354.8 Z" fill="url(#lg)"/>
<path d="M323,2324.2 L406,2324.2 L323,2339.8 Z" fill="#fff" fill-opacity="0.13"/>
<path d="M406,2324.2 L406,2339.8 L323,2339.8 Z" fill="#003a80" fill-opacity="0.07"/>
<text x="420.5" y="2345.5" font-family='"Liberation Sans", sans-serif' font-weight="700" font-size="42" fill="#fff" textLength="217" lengthAdjust="spacingAndGlyphs">SignalPlus</text>
</svg>
</body></html>
